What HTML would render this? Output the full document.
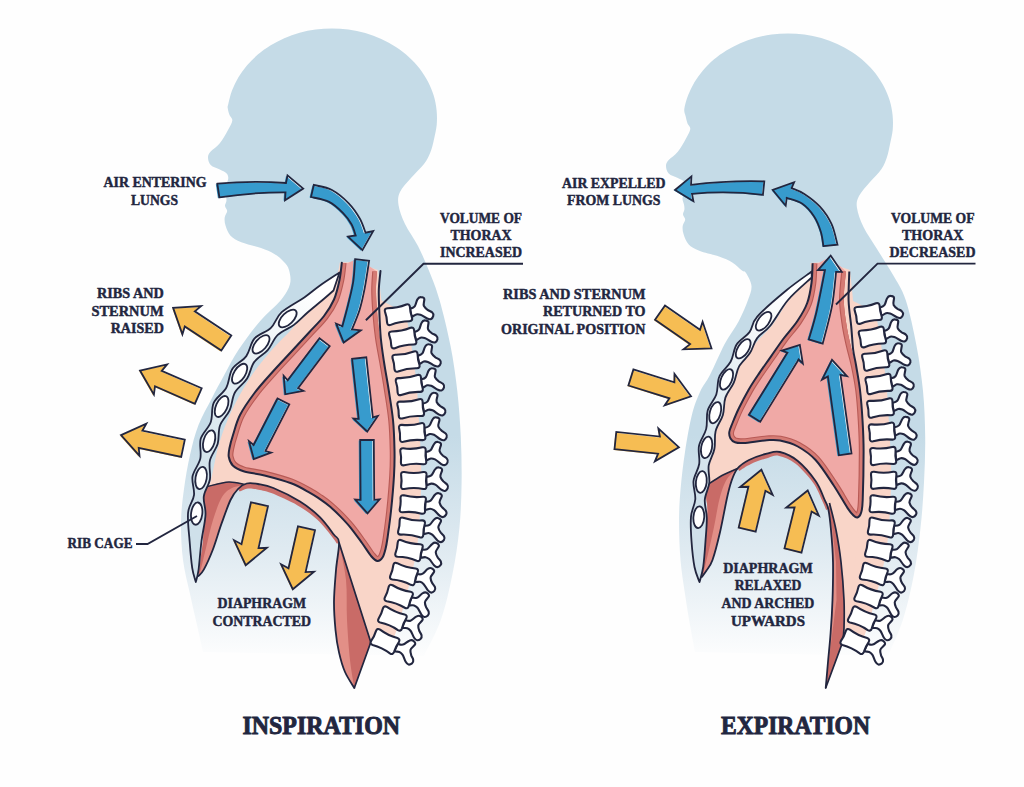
<!DOCTYPE html>
<html><head><meta charset="utf-8"><title>Inspiration and Expiration</title>
<style>
html,body{margin:0;padding:0;background:#fefefe;}
svg{display:block;}
text{font-family:"Liberation Serif",serif;font-weight:bold;fill:#22263f;stroke:#22263f;stroke-width:0.45px;}
text.t{stroke-width:0.9px;}
</style></head><body>
<svg width="1024" height="787" viewBox="0 0 1024 787">
<defs>
<linearGradient id="bodyG" gradientUnits="userSpaceOnUse" x1="0" y1="435" x2="0" y2="662">
<stop offset="0" stop-color="#c5dbe7"/><stop offset="0.5" stop-color="#dfeaf1"/><stop offset="1" stop-color="#fefefe"/></linearGradient>
<linearGradient id="rcL" gradientUnits="userSpaceOnUse" x1="320" y1="290" x2="200" y2="500">
<stop offset="0" stop-color="#ffffff"/><stop offset="0.45" stop-color="#e6eff4"/><stop offset="1" stop-color="#cfe0ea"/></linearGradient>
<linearGradient id="rcR" gradientUnits="userSpaceOnUse" x1="795" y1="290" x2="700" y2="500">
<stop offset="0" stop-color="#ffffff"/><stop offset="0.45" stop-color="#e6eff4"/><stop offset="1" stop-color="#cfe0ea"/></linearGradient>
</defs>
<rect width="1024" height="787" fill="#fefefe"/>
<path d="M203.0,652.0 C202.0,647.5 199.2,634.7 197.0,625.0 C194.8,615.3 192.3,604.8 190.0,594.0 C187.7,583.2 184.5,572.0 183.0,560.0 C181.5,548.0 180.8,533.8 181.0,522.0 C181.2,510.2 182.5,500.2 184.0,489.0 C185.5,477.8 187.6,465.7 190.0,455.0 C192.4,444.3 194.8,434.5 198.5,425.0 C202.2,415.5 207.7,406.4 212.0,398.0 C216.3,389.6 220.1,382.7 224.5,374.6 C228.9,366.5 232.8,358.5 238.7,349.6 C244.6,340.7 252.9,329.5 260.0,321.2 C267.1,312.9 276.0,306.2 281.0,300.0 C286.0,293.8 288.7,289.0 290.0,284.0 C291.3,279.0 290.0,273.7 289.0,270.0 C288.0,266.3 286.4,264.7 284.0,262.0 C281.6,259.3 278.1,256.2 274.3,253.9 C270.5,251.6 266.5,249.9 261.0,248.0 C255.5,246.1 246.4,244.4 241.3,242.3 C236.2,240.2 233.1,238.4 230.5,235.7 C227.9,232.9 226.6,228.8 225.6,225.8 C224.6,222.8 224.4,220.0 224.7,217.5 C225.0,215.0 227.1,212.9 227.2,211.0 C227.2,209.1 225.1,207.7 225.0,206.0 C224.9,204.3 226.2,202.7 226.4,201.0 C226.6,199.3 226.3,197.8 226.0,196.0 C225.7,194.2 224.4,192.0 224.5,190.0 C224.6,188.0 225.9,186.0 226.5,184.0 C227.1,182.0 228.3,179.8 228.3,178.0 C228.3,176.2 227.8,174.7 226.4,173.3 C225.0,171.9 222.4,171.0 219.8,169.6 C217.2,168.2 212.7,167.1 210.7,165.0 C208.7,162.9 208.0,159.6 208.0,157.3 C208.0,155.1 208.7,153.8 210.7,151.5 C212.7,149.2 216.9,146.8 219.8,143.2 C222.7,139.6 225.9,133.8 228.0,130.0 C230.1,126.2 232.1,123.0 232.3,120.5 C232.6,118.0 230.3,117.1 229.5,115.0 C228.7,112.9 227.9,109.8 227.7,108.0 C227.5,106.2 227.6,106.9 228.3,104.0 C229.0,101.0 230.4,94.8 232.1,90.3 C233.8,85.9 236.0,81.5 238.4,77.3 C240.9,73.2 243.8,69.1 247.1,65.3 C250.3,61.6 253.9,57.9 257.8,54.6 C261.6,51.3 265.9,48.3 270.3,45.5 C274.7,42.8 279.5,40.3 284.3,38.2 C289.2,36.0 294.3,34.2 299.6,32.8 C304.8,31.3 310.2,30.2 315.6,29.5 C321.0,28.8 326.5,28.4 332.0,28.4 C337.5,28.4 342.9,28.7 348.4,29.5 C354.0,30.3 359.8,31.5 365.3,33.0 C370.8,34.6 376.2,36.6 381.3,38.9 C386.4,41.2 391.3,43.9 395.9,46.9 C400.5,49.9 404.9,53.3 408.8,56.9 C412.7,60.5 416.4,64.4 419.6,68.5 C422.7,72.7 425.6,77.1 427.9,81.6 C430.3,86.1 432.2,90.8 433.7,95.6 C435.1,100.3 436.1,105.3 436.6,110.2 C437.1,115.1 437.1,120.1 436.7,125.0 C436.2,129.9 434.9,135.2 433.9,139.7 C432.9,144.2 432.1,147.9 430.5,152.0 C428.9,156.1 427.2,159.7 424.0,164.0 C420.8,168.3 415.0,173.3 411.0,178.0 C407.0,182.7 402.1,187.5 400.0,192.0 C397.9,196.5 397.7,199.7 398.5,205.0 C399.3,210.3 401.8,217.2 405.0,224.0 C408.2,230.8 413.9,238.0 418.0,246.0 C422.1,254.0 425.9,263.0 429.5,272.0 C433.1,281.0 436.0,287.7 439.5,300.0 C443.0,312.3 447.5,330.5 450.5,345.7 C453.5,360.9 455.6,375.8 457.3,391.0 C459.0,406.2 460.1,421.7 460.8,437.0 C461.5,452.3 461.8,467.4 461.6,482.6 C461.4,497.8 460.9,512.8 459.4,528.0 C457.9,543.2 455.6,558.7 452.5,574.0 C449.4,589.3 445.8,605.9 441.0,619.6 C436.2,633.3 426.8,649.9 424.0,656.0Z" fill="url(#bodyG)"/>
<path d="M695.0,652.0 C694.2,647.5 691.7,634.7 690.0,625.0 C688.3,615.3 686.6,604.8 685.0,594.0 C683.4,583.2 681.5,572.0 680.5,560.0 C679.5,548.0 679.0,533.7 679.0,522.0 C679.0,510.3 679.5,501.7 680.5,490.0 C681.5,478.3 683.1,464.6 685.0,452.0 C686.9,439.4 689.5,424.5 692.0,414.5 C694.5,404.5 697.0,398.6 700.0,392.0 C703.0,385.4 706.1,382.6 710.2,374.6 C714.3,366.7 719.8,353.2 724.5,344.3 C729.2,335.4 734.8,328.6 738.7,321.2 C742.6,313.8 745.9,305.9 748.0,300.0 C750.1,294.1 751.8,290.5 751.5,286.0 C751.2,281.5 747.6,275.6 746.0,273.0 C744.4,270.4 744.3,272.3 742.0,270.5 C739.7,268.7 736.1,264.7 732.3,262.4 C728.5,260.1 724.5,258.4 719.0,256.5 C713.5,254.6 704.4,252.9 699.3,250.8 C694.2,248.8 691.1,246.9 688.5,244.2 C685.9,241.4 684.6,237.3 683.6,234.3 C682.6,231.3 682.4,228.5 682.7,226.0 C683.0,223.5 685.2,221.4 685.2,219.5 C685.2,217.6 683.1,216.2 683.0,214.5 C682.9,212.8 684.2,211.2 684.4,209.5 C684.6,207.8 684.3,206.3 684.0,204.5 C683.7,202.7 682.4,200.5 682.5,198.5 C682.6,196.5 683.9,194.5 684.5,192.5 C685.1,190.5 686.3,188.3 686.3,186.5 C686.3,184.7 685.8,183.2 684.4,181.8 C683.0,180.4 680.4,179.5 677.8,178.1 C675.2,176.7 670.7,175.6 668.7,173.5 C666.7,171.4 666.0,168.1 666.0,165.8 C666.0,163.6 666.7,162.3 668.7,160.0 C670.7,157.7 674.9,155.3 677.8,151.7 C680.7,148.1 683.9,142.3 686.0,138.5 C688.1,134.7 690.0,131.5 690.3,129.0 C690.5,126.5 688.3,125.6 687.5,123.5 C686.7,121.4 686.2,118.9 685.7,116.5 C685.2,114.1 683.9,112.5 684.3,109.0 C684.7,105.5 686.4,99.8 688.1,95.3 C689.8,90.9 692.0,86.5 694.4,82.3 C696.9,78.2 699.8,74.1 703.1,70.3 C706.3,66.6 709.9,62.9 713.8,59.6 C717.6,56.3 721.9,53.3 726.3,50.5 C730.7,47.8 735.5,45.3 740.3,43.2 C745.2,41.0 750.3,39.2 755.6,37.8 C760.8,36.3 766.2,35.2 771.6,34.5 C777.0,33.8 782.5,33.4 788.0,33.4 C793.5,33.4 798.9,33.7 804.4,34.5 C810.0,35.3 815.8,36.5 821.3,38.0 C826.8,39.6 832.2,41.6 837.3,43.9 C842.4,46.2 847.3,48.9 851.9,51.9 C856.5,54.9 860.9,58.3 864.8,61.9 C868.7,65.5 872.4,69.4 875.6,73.5 C878.7,77.7 881.6,82.1 883.9,86.6 C886.3,91.1 888.2,95.8 889.7,100.6 C891.1,105.3 892.1,110.3 892.6,115.2 C893.1,120.1 893.1,125.1 892.7,130.0 C892.2,134.9 890.8,140.2 889.9,144.7 C888.9,149.2 888.4,152.9 887.0,157.0 C885.6,161.1 884.3,164.8 881.5,169.0 C878.7,173.2 873.8,177.5 870.0,182.0 C866.2,186.5 861.2,191.7 859.0,196.0 C856.8,200.3 856.2,202.8 857.0,208.0 C857.8,213.2 860.2,220.2 863.5,227.0 C866.8,233.8 872.2,241.2 877.0,249.0 C881.8,256.8 887.7,265.5 892.5,274.0 C897.3,282.5 901.7,288.1 905.7,300.0 C909.7,311.9 913.6,330.5 916.5,345.7 C919.4,360.9 921.5,375.8 923.0,391.0 C924.5,406.2 925.0,421.7 925.2,437.0 C925.4,452.3 924.8,467.4 924.0,482.6 C923.2,497.8 922.2,512.8 920.5,528.0 C918.8,543.2 916.9,558.7 914.0,574.0 C911.1,589.3 907.3,605.9 903.0,619.6 C898.7,633.3 890.5,649.9 888.0,656.0Z" fill="url(#bodyG)"/>
<path d="M339.8,262.5 C339.4,264.4 339.1,269.4 337.3,274.0 C335.5,278.6 331.9,285.8 329.0,290.0 C326.1,294.2 324.1,295.9 320.0,299.0 C315.9,302.1 308.8,304.2 304.6,308.7 C300.4,313.1 300.5,318.5 294.7,325.7 C288.9,332.9 277.4,343.3 270.0,352.0 C262.6,360.7 256.3,368.3 250.0,378.0 C243.7,387.7 237.2,399.0 232.0,410.0 C226.8,421.0 222.5,432.3 219.0,444.0 C215.5,455.7 213.0,472.8 211.0,480.0 C209.0,487.2 207.7,485.8 207.0,487.0 L246.7,483.5 C248.6,483.6 253.6,483.2 258.0,484.0 C262.4,484.8 266.4,485.1 273.4,488.0 C280.4,490.9 292.3,496.7 300.0,501.5 C307.7,506.3 314.0,511.4 319.6,516.9 C325.2,522.4 330.6,530.2 333.8,534.5 C337.0,538.8 338.1,541.2 339.0,542.5 L370.8,642.2 L400,560 L396,430 L378,270 L355,262Z" fill="#f9d5c8"/>
<path d="M380.5,300.0 C380.3,301.8 379.2,304.7 379.3,311.0 C379.4,317.3 380.0,329.5 380.8,338.0 C381.6,346.5 382.7,353.3 384.0,362.0 C385.3,370.7 387.2,380.3 388.7,390.0 C390.2,399.7 392.0,410.0 393.0,420.0 C394.0,430.0 394.3,440.7 394.5,450.0 C394.7,459.3 394.6,465.4 394.0,475.6 C393.4,485.8 392.1,500.6 391.0,511.0 C389.9,521.4 388.5,531.0 387.5,538.0 C386.5,545.0 386.1,546.0 385.0,553.0 C383.9,560.0 382.7,570.2 381.0,580.0 C379.3,589.8 376.7,601.6 375.0,612.0 C373.3,622.4 371.5,637.2 370.8,642.2 L391.7,644.8 C393.0,640.9 397.0,629.1 399.3,621.4 C401.6,613.8 403.8,606.6 405.7,599.1 C407.7,591.5 409.4,583.9 411.2,576.1 C413.0,568.2 415.0,560.0 416.3,552.1 C417.6,544.1 418.3,536.4 418.9,528.5 C419.6,520.7 419.9,513.0 420.3,505.0 C420.7,497.0 421.2,488.7 421.3,480.5 C421.4,472.3 421.1,464.0 420.8,455.9 C420.5,447.8 420.1,439.8 419.7,431.8 C419.2,423.8 418.6,415.9 418.1,407.9 C417.7,399.9 417.5,391.8 416.7,383.8 C415.9,375.9 414.5,368.1 413.4,360.2 C412.3,352.3 411.3,344.4 410.1,336.6 C408.8,328.7 406.6,317.2 405.9,313.3Z" fill="#f9d5c8"/>
<path d="M207.4,486.5 C210.9,485.8 222.5,482.3 228.7,482.0 C234.9,481.7 242.0,484.1 244.7,484.5 C243.6,485.2 240.4,486.4 238.0,489.0 C235.6,491.6 233.2,494.3 230.5,500.0 C227.8,505.7 224.6,515.1 221.6,523.4 C218.6,531.7 215.7,542.3 212.7,550.0 C209.7,557.7 206.2,565.3 203.8,569.6 C201.4,573.9 199.4,574.9 198.5,576.0 C198.8,573.3 199.8,565.8 200.5,560.0 C201.2,554.2 202.3,548.5 203.0,541.0 C203.7,533.5 204.5,522.7 204.5,515.0 C204.5,507.3 202.5,499.8 203.0,495.0 C203.5,490.2 206.7,487.9 207.4,486.5Z" fill="#e28f87"/>
<path d="M207.4,486.5 C211.7,484.3 222.5,482.3 228.7,482.0 C234.9,481.7 244.1,483.5 244.7,484.5 C245.2,485.5 235.8,485.9 232.0,488.0 C228.2,490.1 225.2,491.7 222.0,497.0 C218.8,502.3 215.7,511.5 213.0,520.0 C210.3,528.5 208.2,539.0 206.0,548.0 C203.8,557.0 200.4,572.0 199.5,574.0 C198.6,576.0 199.9,565.5 200.5,560.0 C201.1,554.5 202.3,548.5 203.0,541.0 C203.7,533.5 204.5,522.7 204.5,515.0 C204.5,507.3 202.5,499.8 203.0,495.0 C203.5,490.2 203.1,488.7 207.4,486.5Z" fill="#c96b67"/>
<path d="M207.4,486.5 C210.9,485.8 222.5,482.3 228.7,482.0 C234.9,481.7 242.0,484.1 244.7,484.5" fill="none" stroke="#22263f" stroke-width="1.5"/>
<path d="M339.0,542.5 C338.5,547.1 336.8,560.1 336.0,570.0 C335.2,579.9 334.1,591.6 334.0,601.6 C333.9,611.6 334.7,621.5 335.5,630.0 C336.3,638.5 337.4,645.4 339.0,652.4 C340.6,659.4 342.4,666.1 345.0,672.0 C347.6,677.9 352.8,685.3 354.3,688.0 L370.8,642.2Z" fill="#e28f87"/>
<path d="M339.0,542.5 C340.2,548.8 344.7,567.1 346.0,580.0 C347.3,592.9 346.3,606.7 347.0,620.0 C347.7,633.3 348.8,648.7 350.0,660.0 C351.2,671.3 353.6,683.3 354.3,688.0 L370.8,642.2Z" fill="#c96b67"/>
<path d="M354.3,688 L370.8,642.2 L339,542.5" fill="none" stroke="#22263f" stroke-width="1.7" stroke-linejoin="round"/>
<path d="M238.0,489.0 C239.4,488.1 243.4,484.3 246.7,483.5 C250.0,482.7 253.6,483.2 258.0,484.0 C262.4,484.8 266.4,485.1 273.4,488.0 C280.4,490.9 292.3,496.7 300.0,501.5 C307.7,506.3 314.0,511.4 319.6,516.9 C325.2,522.4 330.6,530.2 333.8,534.5 C337.0,538.8 338.1,541.2 339.0,542.5 L337.0,543.8 C336.1,542.5 334.9,540.2 331.6,536.2 C328.3,532.1 322.8,524.6 317.1,519.5 C311.4,514.3 305.2,509.8 297.6,505.4 C289.9,501.0 278.0,495.7 271.3,493.1 C264.5,490.4 261.0,490.2 257.1,489.4 C253.2,488.7 250.9,488.2 248.0,488.5 C245.0,488.9 241.0,491.0 239.6,491.5Z" fill="#c96f6b"/>
<path d="M198.5,576.0 C199.4,574.9 201.4,573.9 203.8,569.6 C206.2,565.3 209.7,557.7 212.7,550.0 C215.7,542.3 218.6,531.7 221.6,523.4 C224.6,515.1 227.8,505.7 230.5,500.0 C233.2,494.3 235.3,491.8 238.0,489.0 C240.7,486.2 243.4,484.3 246.7,483.5 C250.0,482.7 253.6,483.2 258.0,484.0 C262.4,484.8 266.4,485.1 273.4,488.0 C280.4,490.9 292.3,496.7 300.0,501.5 C307.7,506.3 314.0,511.4 319.6,516.9 C325.2,522.4 330.6,530.2 333.8,534.5 C337.0,538.8 338.6,536.6 339.0,542.5 C339.4,548.4 336.8,560.1 336.0,570.0 C335.2,579.9 334.1,591.6 334.0,601.6 C333.9,611.6 334.7,621.5 335.5,630.0 C336.3,638.5 337.4,645.4 339.0,652.4 C340.6,659.4 342.4,666.1 345.0,672.0 C347.6,677.9 352.8,685.3 354.3,688.0" fill="none" stroke="#22263f" stroke-width="1.8" stroke-linecap="round"/>
<clipPath id="clL"><path d="M341.8,262.7 C341.4,265.6 340.8,273.9 339.5,280.0 C338.2,286.1 336.6,293.5 334.0,299.5 C331.4,305.5 328.2,310.5 324.0,316.0 C319.8,321.5 314.5,326.5 309.0,332.5 C303.5,338.5 297.1,345.4 291.0,352.0 C284.9,358.6 278.6,365.2 272.5,372.0 C266.4,378.8 259.9,385.8 254.5,393.0 C249.1,400.2 243.6,408.0 240.0,415.0 C236.4,422.0 234.8,429.5 233.0,435.0 C231.2,440.5 230.2,444.3 229.5,448.0 C228.8,451.7 228.2,454.1 228.8,457.0 C229.4,459.9 230.4,463.1 232.8,465.5 C235.2,467.9 238.2,469.6 243.5,471.3 C248.8,473.0 256.6,473.5 264.5,475.5 C272.4,477.5 283.5,480.4 291.1,483.3 C298.7,486.2 305.2,490.2 310.0,492.8 C314.8,495.4 316.6,496.8 320.0,499.1 C323.4,501.4 326.8,503.9 330.2,506.8 C333.6,509.7 336.9,512.9 340.3,516.4 C343.7,519.9 346.9,523.2 350.5,527.6 C354.1,532.0 358.5,538.2 362.0,543.0 C365.5,547.8 368.9,553.5 371.5,556.5 C374.1,559.5 375.7,560.8 377.5,561.0 C379.3,561.2 381.2,559.5 382.5,557.5 C383.8,555.5 384.7,552.2 385.5,549.0 C386.3,545.8 386.6,544.3 387.5,538.0 C388.4,531.7 389.9,521.4 391.0,511.0 C392.1,500.6 393.4,485.8 394.0,475.6 C394.6,465.4 394.7,459.3 394.5,450.0 C394.3,440.7 394.0,430.0 393.0,420.0 C392.0,410.0 390.2,399.7 388.7,390.0 C387.2,380.3 385.5,370.7 384.0,362.0 C382.5,353.3 381.0,346.5 379.8,338.0 C378.6,329.5 377.6,319.0 377.0,311.0 C376.4,303.0 376.0,296.6 376.0,290.0 C376.0,283.4 376.8,274.6 377.0,271.5 L369,266 L355,259.7 L348,263Z"/></clipPath>
<path d="M341.8,262.7 C341.4,265.6 340.8,273.9 339.5,280.0 C338.2,286.1 336.6,293.5 334.0,299.5 C331.4,305.5 328.2,310.5 324.0,316.0 C319.8,321.5 314.5,326.5 309.0,332.5 C303.5,338.5 297.1,345.4 291.0,352.0 C284.9,358.6 278.6,365.2 272.5,372.0 C266.4,378.8 259.9,385.8 254.5,393.0 C249.1,400.2 243.6,408.0 240.0,415.0 C236.4,422.0 234.8,429.5 233.0,435.0 C231.2,440.5 230.2,444.3 229.5,448.0 C228.8,451.7 228.2,454.1 228.8,457.0 C229.4,459.9 230.4,463.1 232.8,465.5 C235.2,467.9 238.2,469.6 243.5,471.3 C248.8,473.0 256.6,473.5 264.5,475.5 C272.4,477.5 283.5,480.4 291.1,483.3 C298.7,486.2 305.2,490.2 310.0,492.8 C314.8,495.4 316.6,496.8 320.0,499.1 C323.4,501.4 326.8,503.9 330.2,506.8 C333.6,509.7 336.9,512.9 340.3,516.4 C343.7,519.9 346.9,523.2 350.5,527.6 C354.1,532.0 358.5,538.2 362.0,543.0 C365.5,547.8 368.9,553.5 371.5,556.5 C374.1,559.5 375.7,560.8 377.5,561.0 C379.3,561.2 381.2,559.5 382.5,557.5 C383.8,555.5 384.7,552.2 385.5,549.0 C386.3,545.8 386.6,544.3 387.5,538.0 C388.4,531.7 389.9,521.4 391.0,511.0 C392.1,500.6 393.4,485.8 394.0,475.6 C394.6,465.4 394.7,459.3 394.5,450.0 C394.3,440.7 394.0,430.0 393.0,420.0 C392.0,410.0 390.2,399.7 388.7,390.0 C387.2,380.3 385.5,370.7 384.0,362.0 C382.5,353.3 381.0,346.5 379.8,338.0 C378.6,329.5 377.6,319.0 377.0,311.0 C376.4,303.0 376.0,296.6 376.0,290.0 C376.0,283.4 376.8,274.6 377.0,271.5 L369,266 L355,259.7 L348,263Z" fill="#f0a9a6"/>
<g clip-path="url(#clL)"><path d="M341.8,262.7 C341.4,265.6 340.8,273.9 339.5,280.0 C338.2,286.1 336.6,293.5 334.0,299.5 C331.4,305.5 328.2,310.5 324.0,316.0 C319.8,321.5 314.5,326.5 309.0,332.5 C303.5,338.5 297.1,345.4 291.0,352.0 C284.9,358.6 278.6,365.2 272.5,372.0 C266.4,378.8 259.9,385.8 254.5,393.0 C249.1,400.2 243.6,408.0 240.0,415.0 C236.4,422.0 234.8,429.5 233.0,435.0 C231.2,440.5 230.2,444.3 229.5,448.0 C228.8,451.7 228.2,454.1 228.8,457.0 C229.4,459.9 230.4,463.1 232.8,465.5 C235.2,467.9 238.2,469.6 243.5,471.3 C248.8,473.0 256.6,473.5 264.5,475.5 C272.4,477.5 283.5,480.4 291.1,483.3 C298.7,486.2 305.2,490.2 310.0,492.8 C314.8,495.4 316.6,496.8 320.0,499.1 C323.4,501.4 326.8,503.9 330.2,506.8 C333.6,509.7 336.9,512.9 340.3,516.4 C343.7,519.9 346.9,523.2 350.5,527.6 C354.1,532.0 358.5,538.2 362.0,543.0 C365.5,547.8 368.9,553.5 371.5,556.5 C374.1,559.5 375.7,560.8 377.5,561.0 C379.3,561.2 381.2,559.5 382.5,557.5 C383.8,555.5 384.7,552.2 385.5,549.0 C386.3,545.8 386.6,544.3 387.5,538.0 C388.4,531.7 389.9,521.4 391.0,511.0 C392.1,500.6 393.4,485.8 394.0,475.6 C394.6,465.4 394.7,459.3 394.5,450.0 C394.3,440.7 394.0,430.0 393.0,420.0 C392.0,410.0 390.2,399.7 388.7,390.0 C387.2,380.3 385.5,370.7 384.0,362.0 C382.5,353.3 381.0,346.5 379.8,338.0 C378.6,329.5 377.6,319.0 377.0,311.0 C376.4,303.0 376.0,296.6 376.0,290.0 C376.0,283.4 376.8,274.6 377.0,271.5" fill="none" stroke="#b85a56" stroke-width="9.6"/><path d="M341.8,262.7 C341.4,265.6 340.8,273.9 339.5,280.0 C338.2,286.1 336.6,293.5 334.0,299.5 C331.4,305.5 328.2,310.5 324.0,316.0 C319.8,321.5 314.5,326.5 309.0,332.5 C303.5,338.5 297.1,345.4 291.0,352.0 C284.9,358.6 278.6,365.2 272.5,372.0 C266.4,378.8 259.9,385.8 254.5,393.0 C249.1,400.2 243.6,408.0 240.0,415.0 C236.4,422.0 234.8,429.5 233.0,435.0 C231.2,440.5 230.2,444.3 229.5,448.0 C228.8,451.7 228.2,454.1 228.8,457.0 C229.4,459.9 230.4,463.1 232.8,465.5 C235.2,467.9 238.2,469.6 243.5,471.3 C248.8,473.0 256.6,473.5 264.5,475.5 C272.4,477.5 283.5,480.4 291.1,483.3 C298.7,486.2 305.2,490.2 310.0,492.8 C314.8,495.4 316.6,496.8 320.0,499.1 C323.4,501.4 326.8,503.9 330.2,506.8 C333.6,509.7 336.9,512.9 340.3,516.4 C343.7,519.9 346.9,523.2 350.5,527.6 C354.1,532.0 358.5,538.2 362.0,543.0 C365.5,547.8 368.9,553.5 371.5,556.5 C374.1,559.5 375.7,560.8 377.5,561.0 C379.3,561.2 381.2,559.5 382.5,557.5 C383.8,555.5 384.7,552.2 385.5,549.0 C386.3,545.8 386.6,544.3 387.5,538.0 C388.4,531.7 389.9,521.4 391.0,511.0 C392.1,500.6 393.4,485.8 394.0,475.6 C394.6,465.4 394.7,459.3 394.5,450.0 C394.3,440.7 394.0,430.0 393.0,420.0 C392.0,410.0 390.2,399.7 388.7,390.0 C387.2,380.3 385.5,370.7 384.0,362.0 C382.5,353.3 381.0,346.5 379.8,338.0 C378.6,329.5 377.6,319.0 377.0,311.0 C376.4,303.0 376.0,296.6 376.0,290.0 C376.0,283.4 376.8,274.6 377.0,271.5" fill="none" stroke="#d57b74" stroke-width="7.4"/></g>
<path d="M341.8,262.7 C341.4,265.6 340.8,273.9 339.5,280.0 C338.2,286.1 336.6,293.5 334.0,299.5 C331.4,305.5 328.2,310.5 324.0,316.0 C319.8,321.5 314.5,326.5 309.0,332.5 C303.5,338.5 297.1,345.4 291.0,352.0 C284.9,358.6 278.6,365.2 272.5,372.0 C266.4,378.8 259.9,385.8 254.5,393.0 C249.1,400.2 243.6,408.0 240.0,415.0 C236.4,422.0 234.8,429.5 233.0,435.0 C231.2,440.5 230.2,444.3 229.5,448.0 C228.8,451.7 228.2,454.1 228.8,457.0 C229.4,459.9 230.4,463.1 232.8,465.5 C235.2,467.9 238.2,469.6 243.5,471.3 C248.8,473.0 256.6,473.5 264.5,475.5 C272.4,477.5 283.5,480.4 291.1,483.3 C298.7,486.2 305.2,490.2 310.0,492.8 C314.8,495.4 316.6,496.8 320.0,499.1 C323.4,501.4 326.8,503.9 330.2,506.8 C333.6,509.7 336.9,512.9 340.3,516.4 C343.7,519.9 346.9,523.2 350.5,527.6 C354.1,532.0 358.5,538.2 362.0,543.0 C365.5,547.8 368.9,553.5 371.5,556.5 C374.1,559.5 375.7,560.8 377.5,561.0 C379.3,561.2 381.2,559.5 382.5,557.5 C383.8,555.5 384.7,552.2 385.5,549.0 C386.3,545.8 386.6,544.3 387.5,538.0 C388.4,531.7 389.9,521.4 391.0,511.0 C392.1,500.6 393.4,485.8 394.0,475.6 C394.6,465.4 394.7,459.3 394.5,450.0 C394.3,440.7 394.0,430.0 393.0,420.0 C392.0,410.0 390.2,399.7 388.7,390.0 C387.2,380.3 385.3,370.7 384.0,362.0 C382.7,353.3 381.6,346.5 380.8,338.0 C380.0,329.5 379.6,319.0 379.3,311.0 C379.0,303.0 378.6,296.7 378.8,290.0 C379.0,283.3 380.2,274.2 380.5,271.0" fill="none" stroke="#22263f" stroke-width="2.0" stroke-linecap="round"/>
<path d="M339.5,272.5 C336.2,274.7 325.8,281.4 320.0,285.5 C314.2,289.6 311.0,292.7 304.6,297.2 C298.2,301.7 287.3,307.1 281.7,312.2 C276.0,317.4 275.5,323.5 270.9,327.9 C266.4,332.3 258.5,333.9 254.4,338.6 C250.3,343.3 250.0,351.0 246.3,356.1 C242.6,361.2 235.6,363.8 232.3,369.0 C228.9,374.3 229.4,382.1 226.3,387.7 C223.2,393.4 216.3,397.2 213.7,402.9 C211.1,408.7 212.9,416.2 210.7,422.2 C208.6,428.2 202.5,432.7 200.7,438.8 C199.0,444.9 201.7,452.3 200.3,458.6 C198.9,464.8 193.6,470.4 192.5,476.5 C191.5,482.6 194.8,489.2 194.0,495.2 C193.3,501.2 188.8,504.9 188.1,512.5 C187.3,520.2 188.9,531.8 189.6,541.0 C190.3,550.2 191.2,561.1 192.2,567.9 C193.2,574.7 195.2,579.6 195.8,582.0 C196.3,579.9 197.7,576.4 198.6,569.6 C199.5,562.8 200.3,550.2 201.5,541.0 C202.7,531.8 205.2,522.1 205.5,514.7 C205.9,507.3 203.0,502.3 203.8,496.4 C204.5,490.5 208.9,485.5 209.9,479.5 C210.9,473.5 208.6,466.6 209.9,460.6 C211.2,454.7 216.0,449.5 217.7,443.7 C219.3,437.8 218.0,431.1 220.0,425.5 C222.0,419.9 227.2,415.7 229.7,410.2 C232.2,404.7 232.0,397.7 234.9,392.5 C237.8,387.2 243.9,383.6 247.1,378.5 C250.3,373.4 250.8,366.6 254.3,361.9 C257.7,357.2 263.8,354.6 267.7,350.1 C271.6,345.7 273.4,339.1 277.8,334.9 C282.1,330.7 289.0,328.6 293.9,324.9 C298.8,321.2 302.3,317.1 307.0,313.0 C311.7,308.9 317.6,304.2 322.0,300.5 C326.4,296.8 331.6,292.2 333.5,290.5Z" fill="url(#rcL)" stroke="#22263f" stroke-width="1.8" stroke-linejoin="round"/><ellipse cx="287.7" cy="318.5" rx="11.2" ry="5.6" transform="rotate(136.0 287.7 318.5)" fill="#fff" stroke="#22263f" stroke-width="1.8"/><ellipse cx="261.0" cy="344.3" rx="11.2" ry="5.6" transform="rotate(131.1 261.0 344.3)" fill="#fff" stroke="#22263f" stroke-width="1.8"/><ellipse cx="239.6" cy="373.7" rx="11.2" ry="5.6" transform="rotate(122.4 239.6 373.7)" fill="#fff" stroke="#22263f" stroke-width="1.8"/><ellipse cx="221.6" cy="406.5" rx="11.2" ry="5.6" transform="rotate(114.3 221.6 406.5)" fill="#fff" stroke="#22263f" stroke-width="1.8"/><ellipse cx="209.1" cy="441.2" rx="11.2" ry="5.6" transform="rotate(106.0 209.1 441.2)" fill="#fff" stroke="#22263f" stroke-width="1.8"/><ellipse cx="201.1" cy="478.0" rx="11.2" ry="5.6" transform="rotate(99.7 201.1 478.0)" fill="#fff" stroke="#22263f" stroke-width="1.8"/><ellipse cx="196.7" cy="513.6" rx="11.2" ry="5.6" transform="rotate(97.0 196.7 513.6)" fill="#fff" stroke="#22263f" stroke-width="1.8"/>
<g transform="translate(398.5,314.7) rotate(-11.0) scale(1.00)"><path d="M12.4,-3.6 C14.5,-3.8 16,-3.8 17.5,-5.1 C19.2,-6.6 19.8,-9.5 21.5,-11.4 C22.6,-12.8 24.2,-13.3 25.3,-13 C27.2,-12.6 28.6,-11.6 28.3,-10.2 C27.9,-8 26,-5.5 26.6,-3.6 C27.2,-1.6 28.5,-0.2 29.7,1 C31,2.2 32.6,3 33.4,4.1 C34.4,5.5 34.5,6.7 33.9,7.8 C33.2,9.2 32.4,10.1 31.2,10.4 C30,10.7 28.7,10 27.5,9.2 C25.4,7.8 23.5,5.3 21.5,4.2 C20,3.4 18.8,3 17.5,3.1 C16,3.2 14.8,4.4 12.6,4.7 Z" fill="#fff" stroke="#22263f" stroke-width="2.1" stroke-linejoin="round"/><path d="M-9.6,-8.5 Q0,-6.6 9.6,-8.5 Q12.9,-8.9 12.7,-5.6 Q11.8,0 12.7,5.6 Q12.9,8.9 9.6,8.5 Q0,6.6 -9.6,8.5 Q-12.9,8.9 -12.7,5.6 Q-11.8,0 -12.7,-5.6 Q-12.9,-8.9 -9.6,-8.5 Z" fill="#fff" stroke="#22263f" stroke-width="2.1" stroke-linejoin="round"/></g>
<g transform="translate(402.7,338.0) rotate(-11.0) scale(1.00)"><path d="M12.4,-3.6 C14.5,-3.8 16,-3.8 17.5,-5.1 C19.2,-6.6 19.8,-9.5 21.5,-11.4 C22.6,-12.8 24.2,-13.3 25.3,-13 C27.2,-12.6 28.6,-11.6 28.3,-10.2 C27.9,-8 26,-5.5 26.6,-3.6 C27.2,-1.6 28.5,-0.2 29.7,1 C31,2.2 32.6,3 33.4,4.1 C34.4,5.5 34.5,6.7 33.9,7.8 C33.2,9.2 32.4,10.1 31.2,10.4 C30,10.7 28.7,10 27.5,9.2 C25.4,7.8 23.5,5.3 21.5,4.2 C20,3.4 18.8,3 17.5,3.1 C16,3.2 14.8,4.4 12.6,4.7 Z" fill="#fff" stroke="#22263f" stroke-width="2.1" stroke-linejoin="round"/><path d="M-9.6,-8.5 Q0,-6.6 9.6,-8.5 Q12.9,-8.9 12.7,-5.6 Q11.8,0 12.7,5.6 Q12.9,8.9 9.6,8.5 Q0,6.6 -9.6,8.5 Q-12.9,8.9 -12.7,5.6 Q-11.8,0 -12.7,-5.6 Q-12.9,-8.9 -9.6,-8.5 Z" fill="#fff" stroke="#22263f" stroke-width="2.1" stroke-linejoin="round"/></g>
<g transform="translate(406.0,361.5) rotate(-10.0) scale(1.00)"><path d="M12.4,-3.6 C14.5,-3.8 16,-3.8 17.5,-5.1 C19.2,-6.6 19.8,-9.5 21.5,-11.4 C22.6,-12.8 24.2,-13.3 25.3,-13 C27.2,-12.6 28.6,-11.6 28.3,-10.2 C27.9,-8 26,-5.5 26.6,-3.6 C27.2,-1.6 28.5,-0.2 29.7,1 C31,2.2 32.6,3 33.4,4.1 C34.4,5.5 34.5,6.7 33.9,7.8 C33.2,9.2 32.4,10.1 31.2,10.4 C30,10.7 28.7,10 27.5,9.2 C25.4,7.8 23.5,5.3 21.5,4.2 C20,3.4 18.8,3 17.5,3.1 C16,3.2 14.8,4.4 12.6,4.7 Z" fill="#fff" stroke="#22263f" stroke-width="2.1" stroke-linejoin="round"/><path d="M-9.6,-8.5 Q0,-6.6 9.6,-8.5 Q12.9,-8.9 12.7,-5.6 Q11.8,0 12.7,5.6 Q12.9,8.9 9.6,8.5 Q0,6.6 -9.6,8.5 Q-12.9,8.9 -12.7,5.6 Q-11.8,0 -12.7,-5.6 Q-12.9,-8.9 -9.6,-8.5 Z" fill="#fff" stroke="#22263f" stroke-width="2.1" stroke-linejoin="round"/></g>
<g transform="translate(409.3,385.0) rotate(-9.0) scale(1.00)"><path d="M12.4,-3.6 C14.5,-3.8 16,-3.8 17.5,-5.1 C19.2,-6.6 19.8,-9.5 21.5,-11.4 C22.6,-12.8 24.2,-13.3 25.3,-13 C27.2,-12.6 28.6,-11.6 28.3,-10.2 C27.9,-8 26,-5.5 26.6,-3.6 C27.2,-1.6 28.5,-0.2 29.7,1 C31,2.2 32.6,3 33.4,4.1 C34.4,5.5 34.5,6.7 33.9,7.8 C33.2,9.2 32.4,10.1 31.2,10.4 C30,10.7 28.7,10 27.5,9.2 C25.4,7.8 23.5,5.3 21.5,4.2 C20,3.4 18.8,3 17.5,3.1 C16,3.2 14.8,4.4 12.6,4.7 Z" fill="#fff" stroke="#22263f" stroke-width="2.1" stroke-linejoin="round"/><path d="M-9.6,-8.5 Q0,-6.6 9.6,-8.5 Q12.9,-8.9 12.7,-5.6 Q11.8,0 12.7,5.6 Q12.9,8.9 9.6,8.5 Q0,6.6 -9.6,8.5 Q-12.9,8.9 -12.7,5.6 Q-11.8,0 -12.7,-5.6 Q-12.9,-8.9 -9.6,-8.5 Z" fill="#fff" stroke="#22263f" stroke-width="2.1" stroke-linejoin="round"/></g>
<g transform="translate(410.7,408.8) rotate(-7.0) scale(1.00)"><path d="M12.4,-3.6 C14.5,-3.8 16,-3.8 17.5,-5.1 C19.2,-6.6 19.8,-9.5 21.5,-11.4 C22.6,-12.8 24.2,-13.3 25.3,-13 C27.2,-12.6 28.6,-11.6 28.3,-10.2 C27.9,-8 26,-5.5 26.6,-3.6 C27.2,-1.6 28.5,-0.2 29.7,1 C31,2.2 32.6,3 33.4,4.1 C34.4,5.5 34.5,6.7 33.9,7.8 C33.2,9.2 32.4,10.1 31.2,10.4 C30,10.7 28.7,10 27.5,9.2 C25.4,7.8 23.5,5.3 21.5,4.2 C20,3.4 18.8,3 17.5,3.1 C16,3.2 14.8,4.4 12.6,4.7 Z" fill="#fff" stroke="#22263f" stroke-width="2.1" stroke-linejoin="round"/><path d="M-9.6,-8.5 Q0,-6.6 9.6,-8.5 Q12.9,-8.9 12.7,-5.6 Q11.8,0 12.7,5.6 Q12.9,8.9 9.6,8.5 Q0,6.6 -9.6,8.5 Q-12.9,8.9 -12.7,5.6 Q-11.8,0 -12.7,-5.6 Q-12.9,-8.9 -9.6,-8.5 Z" fill="#fff" stroke="#22263f" stroke-width="2.1" stroke-linejoin="round"/></g>
<g transform="translate(412.2,432.5) rotate(-5.0) scale(1.00)"><path d="M12.4,-3.6 C14.5,-3.8 16,-3.8 17.5,-5.1 C19.2,-6.6 19.8,-9.5 21.5,-11.4 C22.6,-12.8 24.2,-13.3 25.3,-13 C27.2,-12.6 28.6,-11.6 28.3,-10.2 C27.9,-8 26,-5.5 26.6,-3.6 C27.2,-1.6 28.5,-0.2 29.7,1 C31,2.2 32.6,3 33.4,4.1 C34.4,5.5 34.5,6.7 33.9,7.8 C33.2,9.2 32.4,10.1 31.2,10.4 C30,10.7 28.7,10 27.5,9.2 C25.4,7.8 23.5,5.3 21.5,4.2 C20,3.4 18.8,3 17.5,3.1 C16,3.2 14.8,4.4 12.6,4.7 Z" fill="#fff" stroke="#22263f" stroke-width="2.1" stroke-linejoin="round"/><path d="M-9.6,-8.5 Q0,-6.6 9.6,-8.5 Q12.9,-8.9 12.7,-5.6 Q11.8,0 12.7,5.6 Q12.9,8.9 9.6,8.5 Q0,6.6 -9.6,8.5 Q-12.9,8.9 -12.7,5.6 Q-11.8,0 -12.7,-5.6 Q-12.9,-8.9 -9.6,-8.5 Z" fill="#fff" stroke="#22263f" stroke-width="2.1" stroke-linejoin="round"/></g>
<g transform="translate(413.3,456.3) rotate(-3.0) scale(1.00)"><path d="M12.4,-3.6 C14.5,-3.8 16,-3.8 17.5,-5.1 C19.2,-6.6 19.8,-9.5 21.5,-11.4 C22.6,-12.8 24.2,-13.3 25.3,-13 C27.2,-12.6 28.6,-11.6 28.3,-10.2 C27.9,-8 26,-5.5 26.6,-3.6 C27.2,-1.6 28.5,-0.2 29.7,1 C31,2.2 32.6,3 33.4,4.1 C34.4,5.5 34.5,6.7 33.9,7.8 C33.2,9.2 32.4,10.1 31.2,10.4 C30,10.7 28.7,10 27.5,9.2 C25.4,7.8 23.5,5.3 21.5,4.2 C20,3.4 18.8,3 17.5,3.1 C16,3.2 14.8,4.4 12.6,4.7 Z" fill="#fff" stroke="#22263f" stroke-width="2.1" stroke-linejoin="round"/><path d="M-9.6,-8.5 Q0,-6.6 9.6,-8.5 Q12.9,-8.9 12.7,-5.6 Q11.8,0 12.7,5.6 Q12.9,8.9 9.6,8.5 Q0,6.6 -9.6,8.5 Q-12.9,8.9 -12.7,5.6 Q-11.8,0 -12.7,-5.6 Q-12.9,-8.9 -9.6,-8.5 Z" fill="#fff" stroke="#22263f" stroke-width="2.1" stroke-linejoin="round"/></g>
<g transform="translate(413.8,480.5) rotate(0.0) scale(1.00)"><path d="M12.4,-3.6 C14.5,-3.8 16,-3.8 17.5,-5.1 C19.2,-6.6 19.8,-9.5 21.5,-11.4 C22.6,-12.8 24.2,-13.3 25.3,-13 C27.2,-12.6 28.6,-11.6 28.3,-10.2 C27.9,-8 26,-5.5 26.6,-3.6 C27.2,-1.6 28.5,-0.2 29.7,1 C31,2.2 32.6,3 33.4,4.1 C34.4,5.5 34.5,6.7 33.9,7.8 C33.2,9.2 32.4,10.1 31.2,10.4 C30,10.7 28.7,10 27.5,9.2 C25.4,7.8 23.5,5.3 21.5,4.2 C20,3.4 18.8,3 17.5,3.1 C16,3.2 14.8,4.4 12.6,4.7 Z" fill="#fff" stroke="#22263f" stroke-width="2.1" stroke-linejoin="round"/><path d="M-9.6,-8.5 Q0,-6.6 9.6,-8.5 Q12.9,-8.9 12.7,-5.6 Q11.8,0 12.7,5.6 Q12.9,8.9 9.6,8.5 Q0,6.6 -9.6,8.5 Q-12.9,8.9 -12.7,5.6 Q-11.8,0 -12.7,-5.6 Q-12.9,-8.9 -9.6,-8.5 Z" fill="#fff" stroke="#22263f" stroke-width="2.1" stroke-linejoin="round"/></g>
<g transform="translate(412.8,504.5) rotate(4.0) scale(1.00)"><path d="M12.4,-3.6 C14.5,-3.8 16,-3.8 17.5,-5.1 C19.2,-6.6 19.8,-9.5 21.5,-11.4 C22.6,-12.8 24.2,-13.3 25.3,-13 C27.2,-12.6 28.6,-11.6 28.3,-10.2 C27.9,-8 26,-5.5 26.6,-3.6 C27.2,-1.6 28.5,-0.2 29.7,1 C31,2.2 32.6,3 33.4,4.1 C34.4,5.5 34.5,6.7 33.9,7.8 C33.2,9.2 32.4,10.1 31.2,10.4 C30,10.7 28.7,10 27.5,9.2 C25.4,7.8 23.5,5.3 21.5,4.2 C20,3.4 18.8,3 17.5,3.1 C16,3.2 14.8,4.4 12.6,4.7 Z" fill="#fff" stroke="#22263f" stroke-width="2.1" stroke-linejoin="round"/><path d="M-9.6,-8.5 Q0,-6.6 9.6,-8.5 Q12.9,-8.9 12.7,-5.6 Q11.8,0 12.7,5.6 Q12.9,8.9 9.6,8.5 Q0,6.6 -9.6,8.5 Q-12.9,8.9 -12.7,5.6 Q-11.8,0 -12.7,-5.6 Q-12.9,-8.9 -9.6,-8.5 Z" fill="#fff" stroke="#22263f" stroke-width="2.1" stroke-linejoin="round"/></g>
<g transform="translate(411.5,527.5) rotate(8.0) scale(1.00)"><path d="M12.4,-3.6 C14.5,-3.8 16,-3.8 17.5,-5.1 C19.2,-6.6 19.8,-9.5 21.5,-11.4 C22.6,-12.8 24.2,-13.3 25.3,-13 C27.2,-12.6 28.6,-11.6 28.3,-10.2 C27.9,-8 26,-5.5 26.6,-3.6 C27.2,-1.6 28.5,-0.2 29.7,1 C31,2.2 32.6,3 33.4,4.1 C34.4,5.5 34.5,6.7 33.9,7.8 C33.2,9.2 32.4,10.1 31.2,10.4 C30,10.7 28.7,10 27.5,9.2 C25.4,7.8 23.5,5.3 21.5,4.2 C20,3.4 18.8,3 17.5,3.1 C16,3.2 14.8,4.4 12.6,4.7 Z" fill="#fff" stroke="#22263f" stroke-width="2.1" stroke-linejoin="round"/><path d="M-9.6,-8.5 Q0,-6.6 9.6,-8.5 Q12.9,-8.9 12.7,-5.6 Q11.8,0 12.7,5.6 Q12.9,8.9 9.6,8.5 Q0,6.6 -9.6,8.5 Q-12.9,8.9 -12.7,5.6 Q-11.8,0 -12.7,-5.6 Q-12.9,-8.9 -9.6,-8.5 Z" fill="#fff" stroke="#22263f" stroke-width="2.1" stroke-linejoin="round"/></g>
<g transform="translate(409.0,550.5) rotate(12.0) scale(1.00)"><path d="M12.4,-3.6 C14.5,-3.8 16,-3.8 17.5,-5.1 C19.2,-6.6 19.8,-9.5 21.5,-11.4 C22.6,-12.8 24.2,-13.3 25.3,-13 C27.2,-12.6 28.6,-11.6 28.3,-10.2 C27.9,-8 26,-5.5 26.6,-3.6 C27.2,-1.6 28.5,-0.2 29.7,1 C31,2.2 32.6,3 33.4,4.1 C34.4,5.5 34.5,6.7 33.9,7.8 C33.2,9.2 32.4,10.1 31.2,10.4 C30,10.7 28.7,10 27.5,9.2 C25.4,7.8 23.5,5.3 21.5,4.2 C20,3.4 18.8,3 17.5,3.1 C16,3.2 14.8,4.4 12.6,4.7 Z" fill="#fff" stroke="#22263f" stroke-width="2.1" stroke-linejoin="round"/><path d="M-9.6,-8.5 Q0,-6.6 9.6,-8.5 Q12.9,-8.9 12.7,-5.6 Q11.8,0 12.7,5.6 Q12.9,8.9 9.6,8.5 Q0,6.6 -9.6,8.5 Q-12.9,8.9 -12.7,5.6 Q-11.8,0 -12.7,-5.6 Q-12.9,-8.9 -9.6,-8.5 Z" fill="#fff" stroke="#22263f" stroke-width="2.1" stroke-linejoin="round"/></g>
<g transform="translate(404.0,574.0) rotate(16.0) scale(1.00)"><path d="M12.4,-3.6 C14.5,-3.8 16,-3.8 17.5,-5.1 C19.2,-6.6 19.8,-9.5 21.5,-11.4 C22.6,-12.8 24.2,-13.3 25.3,-13 C27.2,-12.6 28.6,-11.6 28.3,-10.2 C27.9,-8 26,-5.5 26.6,-3.6 C27.2,-1.6 28.5,-0.2 29.7,1 C31,2.2 32.6,3 33.4,4.1 C34.4,5.5 34.5,6.7 33.9,7.8 C33.2,9.2 32.4,10.1 31.2,10.4 C30,10.7 28.7,10 27.5,9.2 C25.4,7.8 23.5,5.3 21.5,4.2 C20,3.4 18.8,3 17.5,3.1 C16,3.2 14.8,4.4 12.6,4.7 Z" fill="#fff" stroke="#22263f" stroke-width="2.1" stroke-linejoin="round"/><path d="M-9.6,-8.5 Q0,-6.6 9.6,-8.5 Q12.9,-8.9 12.7,-5.6 Q11.8,0 12.7,5.6 Q12.9,8.9 9.6,8.5 Q0,6.6 -9.6,8.5 Q-12.9,8.9 -12.7,5.6 Q-11.8,0 -12.7,-5.6 Q-12.9,-8.9 -9.6,-8.5 Z" fill="#fff" stroke="#22263f" stroke-width="2.1" stroke-linejoin="round"/></g>
<g transform="translate(398.7,596.5) rotate(20.0) scale(1.00)"><path d="M12.4,-3.6 C14.5,-3.8 16,-3.8 17.5,-5.1 C19.2,-6.6 19.8,-9.5 21.5,-11.4 C22.6,-12.8 24.2,-13.3 25.3,-13 C27.2,-12.6 28.6,-11.6 28.3,-10.2 C27.9,-8 26,-5.5 26.6,-3.6 C27.2,-1.6 28.5,-0.2 29.7,1 C31,2.2 32.6,3 33.4,4.1 C34.4,5.5 34.5,6.7 33.9,7.8 C33.2,9.2 32.4,10.1 31.2,10.4 C30,10.7 28.7,10 27.5,9.2 C25.4,7.8 23.5,5.3 21.5,4.2 C20,3.4 18.8,3 17.5,3.1 C16,3.2 14.8,4.4 12.6,4.7 Z" fill="#fff" stroke="#22263f" stroke-width="2.1" stroke-linejoin="round"/><path d="M-9.6,-8.5 Q0,-6.6 9.6,-8.5 Q12.9,-8.9 12.7,-5.6 Q11.8,0 12.7,5.6 Q12.9,8.9 9.6,8.5 Q0,6.6 -9.6,8.5 Q-12.9,8.9 -12.7,5.6 Q-11.8,0 -12.7,-5.6 Q-12.9,-8.9 -9.6,-8.5 Z" fill="#fff" stroke="#22263f" stroke-width="2.1" stroke-linejoin="round"/></g>
<g transform="translate(392.4,618.5) rotate(23.0) scale(1.00)"><path d="M12.4,-3.6 C14.5,-3.8 16,-3.8 17.5,-5.1 C19.2,-6.6 19.8,-9.5 21.5,-11.4 C22.6,-12.8 24.2,-13.3 25.3,-13 C27.2,-12.6 28.6,-11.6 28.3,-10.2 C27.9,-8 26,-5.5 26.6,-3.6 C27.2,-1.6 28.5,-0.2 29.7,1 C31,2.2 32.6,3 33.4,4.1 C34.4,5.5 34.5,6.7 33.9,7.8 C33.2,9.2 32.4,10.1 31.2,10.4 C30,10.7 28.7,10 27.5,9.2 C25.4,7.8 23.5,5.3 21.5,4.2 C20,3.4 18.8,3 17.5,3.1 C16,3.2 14.8,4.4 12.6,4.7 Z" fill="#fff" stroke="#22263f" stroke-width="2.1" stroke-linejoin="round"/><path d="M-9.6,-8.5 Q0,-6.6 9.6,-8.5 Q12.9,-8.9 12.7,-5.6 Q11.8,0 12.7,5.6 Q12.9,8.9 9.6,8.5 Q0,6.6 -9.6,8.5 Q-12.9,8.9 -12.7,5.6 Q-11.8,0 -12.7,-5.6 Q-12.9,-8.9 -9.6,-8.5 Z" fill="#fff" stroke="#22263f" stroke-width="2.1" stroke-linejoin="round"/></g>
<g transform="translate(385.0,641.5) rotate(26.0) scale(1.00)"><path d="M12.4,-3.6 C14.5,-3.8 16,-3.8 17.5,-5.1 C19.2,-6.6 19.8,-9.5 21.5,-11.4 C22.6,-12.8 24.2,-13.3 25.3,-13 C27.2,-12.6 28.6,-11.6 28.3,-10.2 C27.9,-8 26,-5.5 26.6,-3.6 C27.2,-1.6 28.5,-0.2 29.7,1 C31,2.2 32.6,3 33.4,4.1 C34.4,5.5 34.5,6.7 33.9,7.8 C33.2,9.2 32.4,10.1 31.2,10.4 C30,10.7 28.7,10 27.5,9.2 C25.4,7.8 23.5,5.3 21.5,4.2 C20,3.4 18.8,3 17.5,3.1 C16,3.2 14.8,4.4 12.6,4.7 Z" fill="#fff" stroke="#22263f" stroke-width="2.1" stroke-linejoin="round"/><path d="M-9.6,-8.5 Q0,-6.6 9.6,-8.5 Q12.9,-8.9 12.7,-5.6 Q11.8,0 12.7,5.6 Q12.9,8.9 9.6,8.5 Q0,6.6 -9.6,8.5 Q-12.9,8.9 -12.7,5.6 Q-11.8,0 -12.7,-5.6 Q-12.9,-8.9 -9.6,-8.5 Z" fill="#fff" stroke="#22263f" stroke-width="2.1" stroke-linejoin="round"/></g>
<path d="M217.3,183.7 Q252,180.3 286,183 L287.5,175.4 L303.2,188.6 L285,200.2 L285.5,192.4 Q252,192.3 219.4,197.4 Z" fill="#fff"/><path d="M217.3,183.7 Q252,180.3 286,183 L287.5,175.4 L303.2,188.6 L285,200.2 L285.5,192.4 Q252,192.3 219.4,197.4 Z" fill="#379bcd" transform="translate(-1.5,0.6)"/><path d="M217.3,183.7 Q252,180.3 286,183 L287.5,175.4 L303.2,188.6 L285,200.2 L285.5,192.4 Q252,192.3 219.4,197.4 Z" fill="none" stroke="#22263f" stroke-width="1.8" stroke-linejoin="miter"/>
<path d="M313.8,184.9 C316.8,185.8 326.1,186.9 331.9,190.0 C337.7,193.1 344.0,198.5 348.7,203.3 C353.4,208.1 357.1,213.8 359.9,218.7 C362.7,223.6 364.6,230.4 365.5,232.7 L373.2,231 L362.4,250.1 L348,236.6 L355.7,235.5 C355.0,233.6 353.6,228.0 351.5,224.3 C349.4,220.6 346.8,216.8 343.1,213.1 C339.4,209.4 334.5,204.6 329.1,201.9 C323.8,199.2 314.0,197.8 311.0,197.0Z" fill="#fff"/><path d="M313.8,184.9 C316.8,185.8 326.1,186.9 331.9,190.0 C337.7,193.1 344.0,198.5 348.7,203.3 C353.4,208.1 357.1,213.8 359.9,218.7 C362.7,223.6 364.6,230.4 365.5,232.7 L373.2,231 L362.4,250.1 L348,236.6 L355.7,235.5 C355.0,233.6 353.6,228.0 351.5,224.3 C349.4,220.6 346.8,216.8 343.1,213.1 C339.4,209.4 334.5,204.6 329.1,201.9 C323.8,199.2 314.0,197.8 311.0,197.0Z" fill="#379bcd" transform="translate(-1.5,0.6)"/><path d="M313.8,184.9 C316.8,185.8 326.1,186.9 331.9,190.0 C337.7,193.1 344.0,198.5 348.7,203.3 C353.4,208.1 357.1,213.8 359.9,218.7 C362.7,223.6 364.6,230.4 365.5,232.7 L373.2,231 L362.4,250.1 L348,236.6 L355.7,235.5 C355.0,233.6 353.6,228.0 351.5,224.3 C349.4,220.6 346.8,216.8 343.1,213.1 C339.4,209.4 334.5,204.6 329.1,201.9 C323.8,199.2 314.0,197.8 311.0,197.0Z" fill="none" stroke="#22263f" stroke-width="1.8" stroke-linejoin="miter"/>
<path d="M355.1,259.2 L369.1,260.8 C368.4,265.4 366.3,280.0 364.7,288.1 C363.1,296.2 361.7,302.8 359.6,309.7 C357.5,316.6 353.2,326.1 351.9,329.4 L360.8,330.3 L343.7,342.5 L336.1,323.7 L342.4,326.3 C343.3,322.7 346.3,312.1 348.1,304.7 C349.9,297.3 352.0,289.4 353.2,281.8 C354.4,274.2 354.8,263.0 355.1,259.2Z" fill="#fff"/><path d="M355.1,259.2 L369.1,260.8 C368.4,265.4 366.3,280.0 364.7,288.1 C363.1,296.2 361.7,302.8 359.6,309.7 C357.5,316.6 353.2,326.1 351.9,329.4 L360.8,330.3 L343.7,342.5 L336.1,323.7 L342.4,326.3 C343.3,322.7 346.3,312.1 348.1,304.7 C349.9,297.3 352.0,289.4 353.2,281.8 C354.4,274.2 354.8,263.0 355.1,259.2Z" fill="#379bcd" transform="translate(-1.5,0.6)"/><path d="M355.1,259.2 L369.1,260.8 C368.4,265.4 366.3,280.0 364.7,288.1 C363.1,296.2 361.7,302.8 359.6,309.7 C357.5,316.6 353.2,326.1 351.9,329.4 L360.8,330.3 L343.7,342.5 L336.1,323.7 L342.4,326.3 C343.3,322.7 346.3,312.1 348.1,304.7 C349.9,297.3 352.0,289.4 353.2,281.8 C354.4,274.2 354.8,263.0 355.1,259.2Z" fill="none" stroke="#22263f" stroke-width="1.8" stroke-linejoin="miter"/>
<path d="M319.5,338.3 L287.7,380.4 L283.7,375.9 L285.3,394.3 L303.4,390.8 L298.0,388.2 L329.7,346.1Z" fill="#fff"/><path d="M319.5,338.3 L287.7,380.4 L283.7,375.9 L285.3,394.3 L303.4,390.8 L298.0,388.2 L329.7,346.1Z" fill="#379bcd" transform="translate(-1.5,0.6)"/><path d="M319.5,338.3 L287.7,380.4 L283.7,375.9 L285.3,394.3 L303.4,390.8 L298.0,388.2 L329.7,346.1Z" fill="none" stroke="#22263f" stroke-width="1.8" stroke-linejoin="miter"/>
<path d="M277.5,398.5 L253.6,445.0 L249.0,441.2 L253.8,459.1 L271.1,452.6 L265.4,451.0 L289.3,404.5Z" fill="#fff"/><path d="M277.5,398.5 L253.6,445.0 L249.0,441.2 L253.8,459.1 L271.1,452.6 L265.4,451.0 L289.3,404.5Z" fill="#379bcd" transform="translate(-1.5,0.6)"/><path d="M277.5,398.5 L253.6,445.0 L249.0,441.2 L253.8,459.1 L271.1,452.6 L265.4,451.0 L289.3,404.5Z" fill="none" stroke="#22263f" stroke-width="1.8" stroke-linejoin="miter"/>
<path d="M352.1,358.9 L358.7,418.8 L353.5,418.6 L367.2,431.5 L377.8,416.0 L372.8,417.3 L366.3,357.3Z" fill="#fff"/><path d="M352.1,358.9 L358.7,418.8 L353.5,418.6 L367.2,431.5 L377.8,416.0 L372.8,417.3 L366.3,357.3Z" fill="#379bcd" transform="translate(-1.5,0.6)"/><path d="M352.1,358.9 L358.7,418.8 L353.5,418.6 L367.2,431.5 L377.8,416.0 L372.8,417.3 L366.3,357.3Z" fill="none" stroke="#22263f" stroke-width="1.8" stroke-linejoin="miter"/>
<path d="M360.2,440.0 L360.6,499.8 L355.2,499.6 L367.5,513.3 L379.6,499.4 L374.2,499.8 L373.8,440.0Z" fill="#fff"/><path d="M360.2,440.0 L360.6,499.8 L355.2,499.6 L367.5,513.3 L379.6,499.4 L374.2,499.8 L373.8,440.0Z" fill="#379bcd" transform="translate(-1.5,0.6)"/><path d="M360.2,440.0 L360.6,499.8 L355.2,499.6 L367.5,513.3 L379.6,499.4 L374.2,499.8 L373.8,440.0Z" fill="none" stroke="#22263f" stroke-width="1.8" stroke-linejoin="miter"/>
<path d="M231.3,335.6 L194.8,311.3 L201.1,306.1 L173.1,307.8 L182.4,334.3 L184.8,326.4 L221.3,350.6Z" fill="#fff"/><path d="M231.3,335.6 L194.8,311.3 L201.1,306.1 L173.1,307.8 L182.4,334.3 L184.8,326.4 L221.3,350.6Z" fill="#f6bd53" transform="translate(-0.8,0.8)"/><path d="M231.3,335.6 L194.8,311.3 L201.1,306.1 L173.1,307.8 L182.4,334.3 L184.8,326.4 L221.3,350.6Z" fill="none" stroke="#22263f" stroke-width="1.8" stroke-linejoin="miter"/>
<path d="M201.7,388.3 L161.7,370.8 L167.1,364.4 L140.0,370.5 L153.9,394.6 L155.0,386.2 L194.9,403.7Z" fill="#fff"/><path d="M201.7,388.3 L161.7,370.8 L167.1,364.4 L140.0,370.5 L153.9,394.6 L155.0,386.2 L194.9,403.7Z" fill="#f6bd53" transform="translate(-0.8,0.8)"/><path d="M201.7,388.3 L161.7,370.8 L167.1,364.4 L140.0,370.5 L153.9,394.6 L155.0,386.2 L194.9,403.7Z" fill="none" stroke="#22263f" stroke-width="1.8" stroke-linejoin="miter"/>
<path d="M184.8,439.7 L142.4,430.7 L146.3,423.6 L121.0,435.1 L139.5,455.9 L138.7,447.9 L181.2,456.9Z" fill="#fff"/><path d="M184.8,439.7 L142.4,430.7 L146.3,423.6 L121.0,435.1 L139.5,455.9 L138.7,447.9 L181.2,456.9Z" fill="#f6bd53" transform="translate(-0.8,0.8)"/><path d="M184.8,439.7 L142.4,430.7 L146.3,423.6 L121.0,435.1 L139.5,455.9 L138.7,447.9 L181.2,456.9Z" fill="none" stroke="#22263f" stroke-width="1.8" stroke-linejoin="miter"/>
<path d="M251.0,502.3 L241.5,544.2 L234.1,540.3 L245.7,565.2 L266.9,547.8 L258.5,548.1 L268.0,506.1Z" fill="#fff"/><path d="M251.0,502.3 L241.5,544.2 L234.1,540.3 L245.7,565.2 L266.9,547.8 L258.5,548.1 L268.0,506.1Z" fill="#f6bd53" transform="translate(-0.8,0.5)"/><path d="M251.0,502.3 L241.5,544.2 L234.1,540.3 L245.7,565.2 L266.9,547.8 L258.5,548.1 L268.0,506.1Z" fill="none" stroke="#22263f" stroke-width="1.8" stroke-linejoin="miter"/>
<path d="M298.0,526.3 L288.5,568.3 L281.1,564.3 L292.8,589.2 L314.0,571.7 L305.6,572.1 L315.0,530.1Z" fill="#fff"/><path d="M298.0,526.3 L288.5,568.3 L281.1,564.3 L292.8,589.2 L314.0,571.7 L305.6,572.1 L315.0,530.1Z" fill="#f6bd53" transform="translate(-0.8,0.5)"/><path d="M298.0,526.3 L288.5,568.3 L281.1,564.3 L292.8,589.2 L314.0,571.7 L305.6,572.1 L315.0,530.1Z" fill="none" stroke="#22263f" stroke-width="1.8" stroke-linejoin="miter"/>
<text x="103.5" y="187.3" text-anchor="start" font-size="15.2" textLength="103.1" lengthAdjust="spacingAndGlyphs">AIR ENTERING</text>
<text x="131.0" y="205.0" text-anchor="start" font-size="15.2" textLength="47.0" lengthAdjust="spacingAndGlyphs">LUNGS</text>
<text x="97.0" y="298.4" text-anchor="start" font-size="15.2" textLength="66.9" lengthAdjust="spacingAndGlyphs">RIBS AND</text>
<text x="91.4" y="315.8" text-anchor="start" font-size="15.2" textLength="72.2" lengthAdjust="spacingAndGlyphs">STERNUM</text>
<text x="110.7" y="333.2" text-anchor="start" font-size="15.2" textLength="53.2" lengthAdjust="spacingAndGlyphs">RAISED</text>
<text x="440.0" y="222.6" text-anchor="start" font-size="15.2" textLength="82.0" lengthAdjust="spacingAndGlyphs">VOLUME OF</text>
<text x="450.5" y="240.0" text-anchor="start" font-size="15.2" textLength="61.1" lengthAdjust="spacingAndGlyphs">THORAX</text>
<text x="440.0" y="257.1" text-anchor="start" font-size="15.2" textLength="82.0" lengthAdjust="spacingAndGlyphs">INCREASED</text>
<path d="M523,263.7 L423.5,263.7 L365.9,320.3" fill="none" stroke="#22263f" stroke-width="1.9"/>
<text x="67.5" y="547.5" text-anchor="start" font-size="15.2" textLength="65.0" lengthAdjust="spacingAndGlyphs">RIB CAGE</text>
<path d="M136,544 L147.5,544 L197,516" fill="none" stroke="#22263f" stroke-width="1.9"/>
<text x="217.5" y="607.5" text-anchor="start" font-size="15.2" textLength="88.5" lengthAdjust="spacingAndGlyphs">DIAPHRAGM</text>
<text x="212.5" y="625.5" text-anchor="start" font-size="15.2" textLength="98.5" lengthAdjust="spacingAndGlyphs">CONTRACTED</text>
<text x="242.5" y="734.0" text-anchor="start" font-size="24.6" textLength="157.5" lengthAdjust="spacingAndGlyphs" class="t">INSPIRATION</text>
<path d="M810.5,263.0 C810.2,265.2 812.4,270.2 809.0,276.0 C805.6,281.8 796.1,289.9 790.0,298.0 C783.9,306.1 778.4,317.0 772.5,324.7 C766.6,332.4 760.3,337.2 754.7,344.3 C749.1,351.4 743.5,358.9 738.7,367.4 C733.9,375.8 729.6,385.4 726.0,395.0 C722.4,404.6 719.5,415.0 717.0,425.0 C714.5,435.0 712.5,445.2 711.0,455.0 C709.5,464.8 708.5,479.2 708.0,484.0 L737.5,468.5 C739.4,467.1 744.1,462.5 749.0,460.0 C753.9,457.5 761.6,454.9 766.8,453.6 C772.0,452.3 774.8,450.8 780.0,452.0 C785.2,453.2 791.9,456.2 797.8,461.0 C803.7,465.8 811.1,474.6 815.6,481.0 C820.1,487.4 822.4,494.8 824.5,499.5 C826.6,504.2 827.7,507.4 828.3,509.0 L842.5,642.5 L868,560 L866,430 L850,270 L826,262Z" fill="#f9d5c8"/>
<path d="M851.0,300.0 C850.7,301.8 848.7,304.3 849.0,311.0 C849.3,317.7 851.4,329.3 853.0,340.0 C854.6,350.7 856.9,361.7 858.5,375.0 C860.1,388.3 861.6,407.3 862.5,420.0 C863.4,432.7 863.6,437.9 863.6,451.2 C863.6,464.5 863.6,485.2 862.7,500.0 C861.8,514.8 860.1,523.3 858.0,540.0 C855.9,556.7 852.6,583.0 850.0,600.0 C847.4,617.0 843.5,635.2 842.2,642.2 L861.5,644.8 C862.8,640.9 866.8,629.1 869.1,621.4 C871.4,613.8 873.6,606.6 875.5,599.1 C877.5,591.5 879.2,583.9 881.0,576.1 C882.8,568.2 884.8,560.0 886.1,552.1 C887.4,544.1 888.1,536.4 888.7,528.5 C889.4,520.7 889.8,513.1 890.2,505.0 C890.6,497.0 891.1,488.5 891.2,480.3 C891.3,472.1 891.0,463.8 890.7,455.6 C890.4,447.4 889.9,439.4 889.5,431.3 C889.0,423.3 888.5,415.2 887.9,407.1 C887.4,399.0 887.2,390.8 886.4,382.8 C885.6,374.8 884.2,367.1 883.1,359.2 C882.0,351.3 881.0,343.4 879.8,335.6 C878.5,327.7 876.3,316.0 875.6,312.1Z" fill="#f9d5c8"/>
<path d="M708.0,484.5 C710.3,483.0 717.1,478.2 722.0,475.5 C726.9,472.8 734.9,469.7 737.5,468.5 C736.5,470.6 733.2,476.1 731.5,481.0 C729.8,485.9 728.9,489.4 727.0,498.0 C725.1,506.6 722.4,522.0 720.0,532.3 C717.6,542.6 714.8,553.6 712.5,560.0 C710.2,566.4 708.3,567.7 706.5,570.5 C704.7,573.3 702.6,575.9 701.8,577.0 C702.1,574.0 702.9,566.0 703.6,559.0 C704.3,552.0 705.4,543.2 706.0,535.0 C706.6,526.8 707.5,516.7 707.5,510.0 C707.5,503.3 705.9,499.2 706.0,495.0 C706.1,490.8 707.7,486.2 708.0,484.5Z" fill="#e28f87"/>
<path d="M708.0,484.5 C710.7,481.2 717.1,478.2 722.0,475.5 C726.9,472.8 736.7,467.9 737.5,468.5 C738.3,469.1 729.9,474.2 727.0,479.0 C724.1,483.8 722.2,489.0 720.0,497.0 C717.8,505.0 716.0,517.5 714.0,527.0 C712.0,536.5 709.9,546.0 708.0,554.0 C706.1,562.0 703.2,574.2 702.5,575.0 C701.8,575.8 703.0,565.7 703.6,559.0 C704.2,552.3 705.4,543.2 706.0,535.0 C706.6,526.8 707.5,516.7 707.5,510.0 C707.5,503.3 705.9,499.2 706.0,495.0 C706.1,490.8 705.3,487.8 708.0,484.5Z" fill="#c96b67"/>
<path d="M708.0,484.5 C710.3,483.0 717.1,478.2 722.0,475.5 C726.9,472.8 734.9,469.7 737.5,468.5" fill="none" stroke="#22263f" stroke-width="1.5"/>
<path d="M828.3,509.0 C828.8,512.5 830.2,521.2 831.0,530.0 C831.8,538.8 832.8,550.3 833.0,562.0 C833.2,573.7 832.9,588.2 832.5,600.0 C832.1,611.8 831.4,622.7 830.6,633.0 C829.9,643.3 828.8,652.8 828.0,662.0 C827.2,671.2 826.1,683.7 825.7,688.0 L842.5,642.5 C842.8,640.1 843.8,635.1 844.0,628.0 C844.2,620.9 844.5,611.0 844.0,600.0 C843.5,589.0 842.3,573.7 841.0,562.0 C839.7,550.3 837.9,539.8 836.0,530.0 C834.1,520.2 830.6,507.5 829.5,503.0Z" fill="#c96b67"/>
<path d="M828.3,509.0 C828.8,512.5 830.2,521.2 831.0,530.0 C831.8,538.8 832.8,550.3 833.0,562.0 C833.2,573.7 832.9,588.2 832.5,600.0 C832.1,611.8 831.4,622.7 830.6,633.0 C829.9,643.3 828.8,652.8 828.0,662.0 C827.2,671.2 826.1,683.7 825.7,688.0 L829.5,655 L836.5,600 L836,562 L832.5,530Z" fill="#e28f87"/>
<path d="M825.7,688 L842.5,642.5 C842.8,640.1 843.8,635.1 844.0,628.0 C844.2,620.9 844.5,611.0 844.0,600.0 C843.5,589.0 842.3,573.7 841.0,562.0 C839.7,550.3 837.9,539.8 836.0,530.0 C834.1,520.2 830.6,507.5 829.5,503.0" fill="none" stroke="#22263f" stroke-width="1.7" stroke-linejoin="round"/>
<path d="M737.5,468.5 C739.4,467.1 744.1,462.5 749.0,460.0 C753.9,457.5 761.6,454.9 766.8,453.6 C772.0,452.3 774.8,450.8 780.0,452.0 C785.2,453.2 791.9,456.2 797.8,461.0 C803.7,465.8 811.1,474.6 815.6,481.0 C820.1,487.4 822.4,494.8 824.5,499.5 C826.6,504.2 827.7,507.4 828.3,509.0 L826.1,509.9 C825.4,508.3 824.3,505.1 822.1,500.6 C820.0,496.0 817.6,488.9 813.1,482.7 C808.7,476.6 801.3,468.2 795.6,463.7 C789.9,459.2 783.7,456.9 779.1,455.9 C774.5,454.9 772.6,456.5 767.9,457.9 C763.2,459.2 755.8,461.7 751.0,463.9 C746.2,466.1 741.2,469.7 739.3,470.9Z" fill="#c96f6b"/>
<path d="M701.8,577.0 C702.6,575.9 704.7,573.3 706.5,570.5 C708.3,567.7 710.2,566.4 712.5,560.0 C714.8,553.6 717.6,542.6 720.0,532.3 C722.4,522.0 725.1,506.6 727.0,498.0 C728.9,489.4 729.8,485.9 731.5,481.0 C733.2,476.1 734.6,472.0 737.5,468.5 C740.4,465.0 744.1,462.5 749.0,460.0 C753.9,457.5 761.6,454.9 766.8,453.6 C772.0,452.3 774.8,450.8 780.0,452.0 C785.2,453.2 791.9,456.2 797.8,461.0 C803.7,465.8 811.1,474.6 815.6,481.0 C820.1,487.4 822.4,494.8 824.5,499.5 C826.6,504.2 827.2,503.9 828.3,509.0 C829.4,514.1 830.2,521.2 831.0,530.0 C831.8,538.8 832.8,550.3 833.0,562.0 C833.2,573.7 832.9,588.2 832.5,600.0 C832.1,611.8 831.4,622.7 830.6,633.0 C829.9,643.3 828.8,652.8 828.0,662.0 C827.2,671.2 826.1,683.7 825.7,688.0" fill="none" stroke="#22263f" stroke-width="1.8" stroke-linecap="round"/>
<clipPath id="clR"><path d="M812.6,263.3 C812.4,266.6 812.4,276.4 811.5,283.0 C810.6,289.6 809.6,296.7 807.2,303.0 C804.9,309.3 801.4,315.0 797.4,321.0 C793.4,327.0 787.7,333.0 783.2,339.0 C778.8,345.0 774.9,350.9 770.7,356.8 C766.6,362.7 762.0,369.1 758.3,374.6 C754.6,380.1 751.7,384.4 748.5,390.0 C745.3,395.6 741.7,402.5 739.0,408.0 C736.3,413.5 734.1,419.0 732.5,423.0 C730.9,427.0 729.6,429.4 729.3,432.0 C729.0,434.6 729.5,436.8 730.5,438.5 C731.5,440.2 732.8,441.6 735.0,442.3 C737.2,443.1 738.3,443.3 743.6,443.0 C748.9,442.7 760.7,440.7 766.8,440.3 C772.9,439.9 774.8,439.5 780.0,440.5 C785.2,441.5 791.9,443.2 797.8,446.5 C803.7,449.8 809.7,453.6 815.6,460.0 C821.5,466.4 828.1,477.0 833.4,485.0 C838.7,493.0 844.2,503.0 847.6,508.1 C851.0,513.2 851.9,513.9 853.5,515.5 C855.1,517.1 856.2,517.9 857.5,517.5 C858.8,517.1 860.1,515.9 861.0,513.0 C861.9,510.1 862.3,510.3 862.7,500.0 C863.1,489.7 863.6,464.5 863.6,451.2 C863.6,437.9 863.1,430.2 862.5,420.0 C861.9,409.8 861.2,399.2 860.0,390.0 C858.8,380.8 857.1,372.5 855.5,365.0 C853.9,357.5 852.0,351.7 850.5,345.0 C849.0,338.3 847.6,332.5 846.5,325.0 C845.4,317.5 843.9,308.9 843.8,300.0 C843.7,291.1 845.6,276.2 846.0,271.5 L840,266 L826,259 L819,263Z"/></clipPath>
<path d="M812.6,263.3 C812.4,266.6 812.4,276.4 811.5,283.0 C810.6,289.6 809.6,296.7 807.2,303.0 C804.9,309.3 801.4,315.0 797.4,321.0 C793.4,327.0 787.7,333.0 783.2,339.0 C778.8,345.0 774.9,350.9 770.7,356.8 C766.6,362.7 762.0,369.1 758.3,374.6 C754.6,380.1 751.7,384.4 748.5,390.0 C745.3,395.6 741.7,402.5 739.0,408.0 C736.3,413.5 734.1,419.0 732.5,423.0 C730.9,427.0 729.6,429.4 729.3,432.0 C729.0,434.6 729.5,436.8 730.5,438.5 C731.5,440.2 732.8,441.6 735.0,442.3 C737.2,443.1 738.3,443.3 743.6,443.0 C748.9,442.7 760.7,440.7 766.8,440.3 C772.9,439.9 774.8,439.5 780.0,440.5 C785.2,441.5 791.9,443.2 797.8,446.5 C803.7,449.8 809.7,453.6 815.6,460.0 C821.5,466.4 828.1,477.0 833.4,485.0 C838.7,493.0 844.2,503.0 847.6,508.1 C851.0,513.2 851.9,513.9 853.5,515.5 C855.1,517.1 856.2,517.9 857.5,517.5 C858.8,517.1 860.1,515.9 861.0,513.0 C861.9,510.1 862.3,510.3 862.7,500.0 C863.1,489.7 863.6,464.5 863.6,451.2 C863.6,437.9 863.1,430.2 862.5,420.0 C861.9,409.8 861.2,399.2 860.0,390.0 C858.8,380.8 857.1,372.5 855.5,365.0 C853.9,357.5 852.0,351.7 850.5,345.0 C849.0,338.3 847.6,332.5 846.5,325.0 C845.4,317.5 843.9,308.9 843.8,300.0 C843.7,291.1 845.6,276.2 846.0,271.5 L840,266 L826,259 L819,263Z" fill="#f0a9a6"/>
<g clip-path="url(#clR)"><path d="M812.6,263.3 C812.4,266.6 812.4,276.4 811.5,283.0 C810.6,289.6 809.6,296.7 807.2,303.0 C804.9,309.3 801.4,315.0 797.4,321.0 C793.4,327.0 787.7,333.0 783.2,339.0 C778.8,345.0 774.9,350.9 770.7,356.8 C766.6,362.7 762.0,369.1 758.3,374.6 C754.6,380.1 751.7,384.4 748.5,390.0 C745.3,395.6 741.7,402.5 739.0,408.0 C736.3,413.5 734.1,419.0 732.5,423.0 C730.9,427.0 729.6,429.4 729.3,432.0 C729.0,434.6 729.5,436.8 730.5,438.5 C731.5,440.2 732.8,441.6 735.0,442.3 C737.2,443.1 738.3,443.3 743.6,443.0 C748.9,442.7 760.7,440.7 766.8,440.3 C772.9,439.9 774.8,439.5 780.0,440.5 C785.2,441.5 791.9,443.2 797.8,446.5 C803.7,449.8 809.7,453.6 815.6,460.0 C821.5,466.4 828.1,477.0 833.4,485.0 C838.7,493.0 844.2,503.0 847.6,508.1 C851.0,513.2 851.9,513.9 853.5,515.5 C855.1,517.1 856.2,517.9 857.5,517.5 C858.8,517.1 860.1,515.9 861.0,513.0 C861.9,510.1 862.3,510.3 862.7,500.0 C863.1,489.7 863.6,464.5 863.6,451.2 C863.6,437.9 863.1,430.2 862.5,420.0 C861.9,409.8 861.2,399.2 860.0,390.0 C858.8,380.8 857.1,372.5 855.5,365.0 C853.9,357.5 852.0,351.7 850.5,345.0 C849.0,338.3 847.6,332.5 846.5,325.0 C845.4,317.5 843.9,308.9 843.8,300.0 C843.7,291.1 845.6,276.2 846.0,271.5" fill="none" stroke="#b85a56" stroke-width="9.6"/><path d="M812.6,263.3 C812.4,266.6 812.4,276.4 811.5,283.0 C810.6,289.6 809.6,296.7 807.2,303.0 C804.9,309.3 801.4,315.0 797.4,321.0 C793.4,327.0 787.7,333.0 783.2,339.0 C778.8,345.0 774.9,350.9 770.7,356.8 C766.6,362.7 762.0,369.1 758.3,374.6 C754.6,380.1 751.7,384.4 748.5,390.0 C745.3,395.6 741.7,402.5 739.0,408.0 C736.3,413.5 734.1,419.0 732.5,423.0 C730.9,427.0 729.6,429.4 729.3,432.0 C729.0,434.6 729.5,436.8 730.5,438.5 C731.5,440.2 732.8,441.6 735.0,442.3 C737.2,443.1 738.3,443.3 743.6,443.0 C748.9,442.7 760.7,440.7 766.8,440.3 C772.9,439.9 774.8,439.5 780.0,440.5 C785.2,441.5 791.9,443.2 797.8,446.5 C803.7,449.8 809.7,453.6 815.6,460.0 C821.5,466.4 828.1,477.0 833.4,485.0 C838.7,493.0 844.2,503.0 847.6,508.1 C851.0,513.2 851.9,513.9 853.5,515.5 C855.1,517.1 856.2,517.9 857.5,517.5 C858.8,517.1 860.1,515.9 861.0,513.0 C861.9,510.1 862.3,510.3 862.7,500.0 C863.1,489.7 863.6,464.5 863.6,451.2 C863.6,437.9 863.1,430.2 862.5,420.0 C861.9,409.8 861.2,399.2 860.0,390.0 C858.8,380.8 857.1,372.5 855.5,365.0 C853.9,357.5 852.0,351.7 850.5,345.0 C849.0,338.3 847.6,332.5 846.5,325.0 C845.4,317.5 843.9,308.9 843.8,300.0 C843.7,291.1 845.6,276.2 846.0,271.5" fill="none" stroke="#d57b74" stroke-width="7.4"/></g>
<path d="M812.6,263.3 C812.4,266.6 812.4,276.4 811.5,283.0 C810.6,289.6 809.6,296.7 807.2,303.0 C804.9,309.3 801.4,315.0 797.4,321.0 C793.4,327.0 787.7,333.0 783.2,339.0 C778.8,345.0 774.9,350.9 770.7,356.8 C766.6,362.7 762.0,369.1 758.3,374.6 C754.6,380.1 751.7,384.4 748.5,390.0 C745.3,395.6 741.7,402.5 739.0,408.0 C736.3,413.5 734.1,419.0 732.5,423.0 C730.9,427.0 729.6,429.4 729.3,432.0 C729.0,434.6 729.5,436.8 730.5,438.5 C731.5,440.2 732.8,441.6 735.0,442.3 C737.2,443.1 738.3,443.3 743.6,443.0 C748.9,442.7 760.7,440.7 766.8,440.3 C772.9,439.9 774.8,439.5 780.0,440.5 C785.2,441.5 791.9,443.2 797.8,446.5 C803.7,449.8 809.7,453.6 815.6,460.0 C821.5,466.4 828.1,477.0 833.4,485.0 C838.7,493.0 844.2,503.0 847.6,508.1 C851.0,513.2 851.9,513.9 853.5,515.5 C855.1,517.1 856.2,517.9 857.5,517.5 C858.8,517.1 860.1,515.9 861.0,513.0 C861.9,510.1 862.3,510.3 862.7,500.0 C863.1,489.7 863.6,464.5 863.6,451.2 C863.6,437.9 863.1,430.2 862.5,420.0 C861.9,409.8 861.1,399.2 860.0,390.0 C858.9,380.8 857.1,371.7 856.0,365.0 C854.9,358.3 854.0,356.4 853.2,350.0 C852.4,343.6 852.0,334.5 851.2,326.3 C850.4,318.1 848.9,309.9 848.6,300.8 C848.3,291.7 849.2,276.5 849.3,271.6" fill="none" stroke="#22263f" stroke-width="2.0"/>
<path d="M811.7,271.5 C807.6,274.6 795.9,282.5 786.8,290.0 C777.7,297.5 763.5,309.5 757.3,316.6 C751.1,323.6 753.0,327.5 749.5,332.1 C746.1,336.8 739.8,339.7 736.6,344.6 C733.5,349.5 733.5,356.5 730.6,361.8 C727.8,367.1 721.7,370.8 719.4,376.3 C717.0,381.7 718.2,388.8 716.3,394.5 C714.4,400.2 709.4,404.8 707.7,410.5 C706.0,416.2 707.7,423.0 706.2,428.9 C704.8,434.8 700.1,440.0 699.0,445.9 C697.8,451.7 700.1,458.1 699.2,464.0 C698.3,469.9 694.2,475.3 693.5,481.1 C692.9,487.0 695.7,493.3 695.3,499.3 C694.8,505.2 691.6,509.7 691.0,516.6 C690.4,523.6 690.9,532.6 691.5,541.0 C692.1,549.4 693.2,560.1 694.5,567.0 C695.8,573.9 698.7,579.6 699.5,582.1 C700.1,579.6 702.2,573.9 703.2,567.0 C704.2,560.1 704.9,549.2 705.5,541.0 C706.1,532.8 706.9,524.6 706.8,517.8 C706.7,510.9 704.4,505.8 704.8,499.9 C705.2,494.1 708.6,488.6 709.3,482.9 C709.9,477.1 707.8,471.1 708.7,465.4 C709.6,459.8 713.3,454.7 714.4,449.0 C715.6,443.3 714.2,436.9 715.6,431.2 C717.0,425.5 721.2,420.5 722.9,414.9 C724.5,409.3 723.6,403.0 725.4,397.6 C727.2,392.2 731.5,387.8 733.8,382.6 C736.1,377.4 736.4,371.3 739.1,366.4 C741.7,361.5 746.9,357.9 749.9,353.1 C753.0,348.3 753.9,342.4 757.3,337.9 C760.6,333.3 764.9,332.3 770.0,326.0 C775.2,319.6 781.1,308.1 788.0,300.0 C794.9,291.9 807.8,281.2 811.7,277.5Z" fill="url(#rcR)" stroke="#22263f" stroke-width="1.8" stroke-linejoin="round"/><ellipse cx="763.6" cy="321.2" rx="10.9" ry="5.4" transform="rotate(126.5 763.6 321.2)" fill="#fff" stroke="#22263f" stroke-width="1.8"/><ellipse cx="743.2" cy="348.8" rx="10.9" ry="5.4" transform="rotate(122.5 743.2 348.8)" fill="#fff" stroke="#22263f" stroke-width="1.8"/><ellipse cx="726.5" cy="379.4" rx="10.9" ry="5.4" transform="rotate(113.7 726.5 379.4)" fill="#fff" stroke="#22263f" stroke-width="1.8"/><ellipse cx="715.2" cy="412.7" rx="10.9" ry="5.4" transform="rotate(106.3 715.2 412.7)" fill="#fff" stroke="#22263f" stroke-width="1.8"/><ellipse cx="706.6" cy="447.4" rx="10.9" ry="5.4" transform="rotate(101.3 706.6 447.4)" fill="#fff" stroke="#22263f" stroke-width="1.8"/><ellipse cx="701.3" cy="482.0" rx="10.9" ry="5.4" transform="rotate(96.4 701.3 482.0)" fill="#fff" stroke="#22263f" stroke-width="1.8"/><ellipse cx="698.8" cy="517.2" rx="10.9" ry="5.4" transform="rotate(94.1 698.8 517.2)" fill="#fff" stroke="#22263f" stroke-width="1.8"/>
<g transform="translate(868.2,313.5) rotate(-11.0) scale(1.00)"><path d="M12.4,-3.6 C14.5,-3.8 16,-3.8 17.5,-5.1 C19.2,-6.6 19.8,-9.5 21.5,-11.4 C22.6,-12.8 24.2,-13.3 25.3,-13 C27.2,-12.6 28.6,-11.6 28.3,-10.2 C27.9,-8 26,-5.5 26.6,-3.6 C27.2,-1.6 28.5,-0.2 29.7,1 C31,2.2 32.6,3 33.4,4.1 C34.4,5.5 34.5,6.7 33.9,7.8 C33.2,9.2 32.4,10.1 31.2,10.4 C30,10.7 28.7,10 27.5,9.2 C25.4,7.8 23.5,5.3 21.5,4.2 C20,3.4 18.8,3 17.5,3.1 C16,3.2 14.8,4.4 12.6,4.7 Z" fill="#fff" stroke="#22263f" stroke-width="2.1" stroke-linejoin="round"/><path d="M-9.6,-8.5 Q0,-6.6 9.6,-8.5 Q12.9,-8.9 12.7,-5.6 Q11.8,0 12.7,5.6 Q12.9,8.9 9.6,8.5 Q0,6.6 -9.6,8.5 Q-12.9,8.9 -12.7,5.6 Q-11.8,0 -12.7,-5.6 Q-12.9,-8.9 -9.6,-8.5 Z" fill="#fff" stroke="#22263f" stroke-width="2.1" stroke-linejoin="round"/></g>
<g transform="translate(872.4,337.0) rotate(-11.0) scale(1.00)"><path d="M12.4,-3.6 C14.5,-3.8 16,-3.8 17.5,-5.1 C19.2,-6.6 19.8,-9.5 21.5,-11.4 C22.6,-12.8 24.2,-13.3 25.3,-13 C27.2,-12.6 28.6,-11.6 28.3,-10.2 C27.9,-8 26,-5.5 26.6,-3.6 C27.2,-1.6 28.5,-0.2 29.7,1 C31,2.2 32.6,3 33.4,4.1 C34.4,5.5 34.5,6.7 33.9,7.8 C33.2,9.2 32.4,10.1 31.2,10.4 C30,10.7 28.7,10 27.5,9.2 C25.4,7.8 23.5,5.3 21.5,4.2 C20,3.4 18.8,3 17.5,3.1 C16,3.2 14.8,4.4 12.6,4.7 Z" fill="#fff" stroke="#22263f" stroke-width="2.1" stroke-linejoin="round"/><path d="M-9.6,-8.5 Q0,-6.6 9.6,-8.5 Q12.9,-8.9 12.7,-5.6 Q11.8,0 12.7,5.6 Q12.9,8.9 9.6,8.5 Q0,6.6 -9.6,8.5 Q-12.9,8.9 -12.7,5.6 Q-11.8,0 -12.7,-5.6 Q-12.9,-8.9 -9.6,-8.5 Z" fill="#fff" stroke="#22263f" stroke-width="2.1" stroke-linejoin="round"/></g>
<g transform="translate(875.7,360.5) rotate(-10.0) scale(1.00)"><path d="M12.4,-3.6 C14.5,-3.8 16,-3.8 17.5,-5.1 C19.2,-6.6 19.8,-9.5 21.5,-11.4 C22.6,-12.8 24.2,-13.3 25.3,-13 C27.2,-12.6 28.6,-11.6 28.3,-10.2 C27.9,-8 26,-5.5 26.6,-3.6 C27.2,-1.6 28.5,-0.2 29.7,1 C31,2.2 32.6,3 33.4,4.1 C34.4,5.5 34.5,6.7 33.9,7.8 C33.2,9.2 32.4,10.1 31.2,10.4 C30,10.7 28.7,10 27.5,9.2 C25.4,7.8 23.5,5.3 21.5,4.2 C20,3.4 18.8,3 17.5,3.1 C16,3.2 14.8,4.4 12.6,4.7 Z" fill="#fff" stroke="#22263f" stroke-width="2.1" stroke-linejoin="round"/><path d="M-9.6,-8.5 Q0,-6.6 9.6,-8.5 Q12.9,-8.9 12.7,-5.6 Q11.8,0 12.7,5.6 Q12.9,8.9 9.6,8.5 Q0,6.6 -9.6,8.5 Q-12.9,8.9 -12.7,5.6 Q-11.8,0 -12.7,-5.6 Q-12.9,-8.9 -9.6,-8.5 Z" fill="#fff" stroke="#22263f" stroke-width="2.1" stroke-linejoin="round"/></g>
<g transform="translate(879.0,384.0) rotate(-9.0) scale(1.00)"><path d="M12.4,-3.6 C14.5,-3.8 16,-3.8 17.5,-5.1 C19.2,-6.6 19.8,-9.5 21.5,-11.4 C22.6,-12.8 24.2,-13.3 25.3,-13 C27.2,-12.6 28.6,-11.6 28.3,-10.2 C27.9,-8 26,-5.5 26.6,-3.6 C27.2,-1.6 28.5,-0.2 29.7,1 C31,2.2 32.6,3 33.4,4.1 C34.4,5.5 34.5,6.7 33.9,7.8 C33.2,9.2 32.4,10.1 31.2,10.4 C30,10.7 28.7,10 27.5,9.2 C25.4,7.8 23.5,5.3 21.5,4.2 C20,3.4 18.8,3 17.5,3.1 C16,3.2 14.8,4.4 12.6,4.7 Z" fill="#fff" stroke="#22263f" stroke-width="2.1" stroke-linejoin="round"/><path d="M-9.6,-8.5 Q0,-6.6 9.6,-8.5 Q12.9,-8.9 12.7,-5.6 Q11.8,0 12.7,5.6 Q12.9,8.9 9.6,8.5 Q0,6.6 -9.6,8.5 Q-12.9,8.9 -12.7,5.6 Q-11.8,0 -12.7,-5.6 Q-12.9,-8.9 -9.6,-8.5 Z" fill="#fff" stroke="#22263f" stroke-width="2.1" stroke-linejoin="round"/></g>
<g transform="translate(880.5,408.0) rotate(-7.0) scale(1.00)"><path d="M12.4,-3.6 C14.5,-3.8 16,-3.8 17.5,-5.1 C19.2,-6.6 19.8,-9.5 21.5,-11.4 C22.6,-12.8 24.2,-13.3 25.3,-13 C27.2,-12.6 28.6,-11.6 28.3,-10.2 C27.9,-8 26,-5.5 26.6,-3.6 C27.2,-1.6 28.5,-0.2 29.7,1 C31,2.2 32.6,3 33.4,4.1 C34.4,5.5 34.5,6.7 33.9,7.8 C33.2,9.2 32.4,10.1 31.2,10.4 C30,10.7 28.7,10 27.5,9.2 C25.4,7.8 23.5,5.3 21.5,4.2 C20,3.4 18.8,3 17.5,3.1 C16,3.2 14.8,4.4 12.6,4.7 Z" fill="#fff" stroke="#22263f" stroke-width="2.1" stroke-linejoin="round"/><path d="M-9.6,-8.5 Q0,-6.6 9.6,-8.5 Q12.9,-8.9 12.7,-5.6 Q11.8,0 12.7,5.6 Q12.9,8.9 9.6,8.5 Q0,6.6 -9.6,8.5 Q-12.9,8.9 -12.7,5.6 Q-11.8,0 -12.7,-5.6 Q-12.9,-8.9 -9.6,-8.5 Z" fill="#fff" stroke="#22263f" stroke-width="2.1" stroke-linejoin="round"/></g>
<g transform="translate(882.0,432.0) rotate(-5.0) scale(1.00)"><path d="M12.4,-3.6 C14.5,-3.8 16,-3.8 17.5,-5.1 C19.2,-6.6 19.8,-9.5 21.5,-11.4 C22.6,-12.8 24.2,-13.3 25.3,-13 C27.2,-12.6 28.6,-11.6 28.3,-10.2 C27.9,-8 26,-5.5 26.6,-3.6 C27.2,-1.6 28.5,-0.2 29.7,1 C31,2.2 32.6,3 33.4,4.1 C34.4,5.5 34.5,6.7 33.9,7.8 C33.2,9.2 32.4,10.1 31.2,10.4 C30,10.7 28.7,10 27.5,9.2 C25.4,7.8 23.5,5.3 21.5,4.2 C20,3.4 18.8,3 17.5,3.1 C16,3.2 14.8,4.4 12.6,4.7 Z" fill="#fff" stroke="#22263f" stroke-width="2.1" stroke-linejoin="round"/><path d="M-9.6,-8.5 Q0,-6.6 9.6,-8.5 Q12.9,-8.9 12.7,-5.6 Q11.8,0 12.7,5.6 Q12.9,8.9 9.6,8.5 Q0,6.6 -9.6,8.5 Q-12.9,8.9 -12.7,5.6 Q-11.8,0 -12.7,-5.6 Q-12.9,-8.9 -9.6,-8.5 Z" fill="#fff" stroke="#22263f" stroke-width="2.1" stroke-linejoin="round"/></g>
<g transform="translate(883.2,456.0) rotate(-3.0) scale(1.00)"><path d="M12.4,-3.6 C14.5,-3.8 16,-3.8 17.5,-5.1 C19.2,-6.6 19.8,-9.5 21.5,-11.4 C22.6,-12.8 24.2,-13.3 25.3,-13 C27.2,-12.6 28.6,-11.6 28.3,-10.2 C27.9,-8 26,-5.5 26.6,-3.6 C27.2,-1.6 28.5,-0.2 29.7,1 C31,2.2 32.6,3 33.4,4.1 C34.4,5.5 34.5,6.7 33.9,7.8 C33.2,9.2 32.4,10.1 31.2,10.4 C30,10.7 28.7,10 27.5,9.2 C25.4,7.8 23.5,5.3 21.5,4.2 C20,3.4 18.8,3 17.5,3.1 C16,3.2 14.8,4.4 12.6,4.7 Z" fill="#fff" stroke="#22263f" stroke-width="2.1" stroke-linejoin="round"/><path d="M-9.6,-8.5 Q0,-6.6 9.6,-8.5 Q12.9,-8.9 12.7,-5.6 Q11.8,0 12.7,5.6 Q12.9,8.9 9.6,8.5 Q0,6.6 -9.6,8.5 Q-12.9,8.9 -12.7,5.6 Q-11.8,0 -12.7,-5.6 Q-12.9,-8.9 -9.6,-8.5 Z" fill="#fff" stroke="#22263f" stroke-width="2.1" stroke-linejoin="round"/></g>
<g transform="translate(883.7,480.3) rotate(0.0) scale(1.00)"><path d="M12.4,-3.6 C14.5,-3.8 16,-3.8 17.5,-5.1 C19.2,-6.6 19.8,-9.5 21.5,-11.4 C22.6,-12.8 24.2,-13.3 25.3,-13 C27.2,-12.6 28.6,-11.6 28.3,-10.2 C27.9,-8 26,-5.5 26.6,-3.6 C27.2,-1.6 28.5,-0.2 29.7,1 C31,2.2 32.6,3 33.4,4.1 C34.4,5.5 34.5,6.7 33.9,7.8 C33.2,9.2 32.4,10.1 31.2,10.4 C30,10.7 28.7,10 27.5,9.2 C25.4,7.8 23.5,5.3 21.5,4.2 C20,3.4 18.8,3 17.5,3.1 C16,3.2 14.8,4.4 12.6,4.7 Z" fill="#fff" stroke="#22263f" stroke-width="2.1" stroke-linejoin="round"/><path d="M-9.6,-8.5 Q0,-6.6 9.6,-8.5 Q12.9,-8.9 12.7,-5.6 Q11.8,0 12.7,5.6 Q12.9,8.9 9.6,8.5 Q0,6.6 -9.6,8.5 Q-12.9,8.9 -12.7,5.6 Q-11.8,0 -12.7,-5.6 Q-12.9,-8.9 -9.6,-8.5 Z" fill="#fff" stroke="#22263f" stroke-width="2.1" stroke-linejoin="round"/></g>
<g transform="translate(882.7,504.5) rotate(4.0) scale(1.00)"><path d="M12.4,-3.6 C14.5,-3.8 16,-3.8 17.5,-5.1 C19.2,-6.6 19.8,-9.5 21.5,-11.4 C22.6,-12.8 24.2,-13.3 25.3,-13 C27.2,-12.6 28.6,-11.6 28.3,-10.2 C27.9,-8 26,-5.5 26.6,-3.6 C27.2,-1.6 28.5,-0.2 29.7,1 C31,2.2 32.6,3 33.4,4.1 C34.4,5.5 34.5,6.7 33.9,7.8 C33.2,9.2 32.4,10.1 31.2,10.4 C30,10.7 28.7,10 27.5,9.2 C25.4,7.8 23.5,5.3 21.5,4.2 C20,3.4 18.8,3 17.5,3.1 C16,3.2 14.8,4.4 12.6,4.7 Z" fill="#fff" stroke="#22263f" stroke-width="2.1" stroke-linejoin="round"/><path d="M-9.6,-8.5 Q0,-6.6 9.6,-8.5 Q12.9,-8.9 12.7,-5.6 Q11.8,0 12.7,5.6 Q12.9,8.9 9.6,8.5 Q0,6.6 -9.6,8.5 Q-12.9,8.9 -12.7,5.6 Q-11.8,0 -12.7,-5.6 Q-12.9,-8.9 -9.6,-8.5 Z" fill="#fff" stroke="#22263f" stroke-width="2.1" stroke-linejoin="round"/></g>
<g transform="translate(881.3,527.5) rotate(8.0) scale(1.00)"><path d="M12.4,-3.6 C14.5,-3.8 16,-3.8 17.5,-5.1 C19.2,-6.6 19.8,-9.5 21.5,-11.4 C22.6,-12.8 24.2,-13.3 25.3,-13 C27.2,-12.6 28.6,-11.6 28.3,-10.2 C27.9,-8 26,-5.5 26.6,-3.6 C27.2,-1.6 28.5,-0.2 29.7,1 C31,2.2 32.6,3 33.4,4.1 C34.4,5.5 34.5,6.7 33.9,7.8 C33.2,9.2 32.4,10.1 31.2,10.4 C30,10.7 28.7,10 27.5,9.2 C25.4,7.8 23.5,5.3 21.5,4.2 C20,3.4 18.8,3 17.5,3.1 C16,3.2 14.8,4.4 12.6,4.7 Z" fill="#fff" stroke="#22263f" stroke-width="2.1" stroke-linejoin="round"/><path d="M-9.6,-8.5 Q0,-6.6 9.6,-8.5 Q12.9,-8.9 12.7,-5.6 Q11.8,0 12.7,5.6 Q12.9,8.9 9.6,8.5 Q0,6.6 -9.6,8.5 Q-12.9,8.9 -12.7,5.6 Q-11.8,0 -12.7,-5.6 Q-12.9,-8.9 -9.6,-8.5 Z" fill="#fff" stroke="#22263f" stroke-width="2.1" stroke-linejoin="round"/></g>
<g transform="translate(878.8,550.5) rotate(12.0) scale(1.00)"><path d="M12.4,-3.6 C14.5,-3.8 16,-3.8 17.5,-5.1 C19.2,-6.6 19.8,-9.5 21.5,-11.4 C22.6,-12.8 24.2,-13.3 25.3,-13 C27.2,-12.6 28.6,-11.6 28.3,-10.2 C27.9,-8 26,-5.5 26.6,-3.6 C27.2,-1.6 28.5,-0.2 29.7,1 C31,2.2 32.6,3 33.4,4.1 C34.4,5.5 34.5,6.7 33.9,7.8 C33.2,9.2 32.4,10.1 31.2,10.4 C30,10.7 28.7,10 27.5,9.2 C25.4,7.8 23.5,5.3 21.5,4.2 C20,3.4 18.8,3 17.5,3.1 C16,3.2 14.8,4.4 12.6,4.7 Z" fill="#fff" stroke="#22263f" stroke-width="2.1" stroke-linejoin="round"/><path d="M-9.6,-8.5 Q0,-6.6 9.6,-8.5 Q12.9,-8.9 12.7,-5.6 Q11.8,0 12.7,5.6 Q12.9,8.9 9.6,8.5 Q0,6.6 -9.6,8.5 Q-12.9,8.9 -12.7,5.6 Q-11.8,0 -12.7,-5.6 Q-12.9,-8.9 -9.6,-8.5 Z" fill="#fff" stroke="#22263f" stroke-width="2.1" stroke-linejoin="round"/></g>
<g transform="translate(873.8,574.0) rotate(16.0) scale(1.00)"><path d="M12.4,-3.6 C14.5,-3.8 16,-3.8 17.5,-5.1 C19.2,-6.6 19.8,-9.5 21.5,-11.4 C22.6,-12.8 24.2,-13.3 25.3,-13 C27.2,-12.6 28.6,-11.6 28.3,-10.2 C27.9,-8 26,-5.5 26.6,-3.6 C27.2,-1.6 28.5,-0.2 29.7,1 C31,2.2 32.6,3 33.4,4.1 C34.4,5.5 34.5,6.7 33.9,7.8 C33.2,9.2 32.4,10.1 31.2,10.4 C30,10.7 28.7,10 27.5,9.2 C25.4,7.8 23.5,5.3 21.5,4.2 C20,3.4 18.8,3 17.5,3.1 C16,3.2 14.8,4.4 12.6,4.7 Z" fill="#fff" stroke="#22263f" stroke-width="2.1" stroke-linejoin="round"/><path d="M-9.6,-8.5 Q0,-6.6 9.6,-8.5 Q12.9,-8.9 12.7,-5.6 Q11.8,0 12.7,5.6 Q12.9,8.9 9.6,8.5 Q0,6.6 -9.6,8.5 Q-12.9,8.9 -12.7,5.6 Q-11.8,0 -12.7,-5.6 Q-12.9,-8.9 -9.6,-8.5 Z" fill="#fff" stroke="#22263f" stroke-width="2.1" stroke-linejoin="round"/></g>
<g transform="translate(868.5,596.5) rotate(20.0) scale(1.00)"><path d="M12.4,-3.6 C14.5,-3.8 16,-3.8 17.5,-5.1 C19.2,-6.6 19.8,-9.5 21.5,-11.4 C22.6,-12.8 24.2,-13.3 25.3,-13 C27.2,-12.6 28.6,-11.6 28.3,-10.2 C27.9,-8 26,-5.5 26.6,-3.6 C27.2,-1.6 28.5,-0.2 29.7,1 C31,2.2 32.6,3 33.4,4.1 C34.4,5.5 34.5,6.7 33.9,7.8 C33.2,9.2 32.4,10.1 31.2,10.4 C30,10.7 28.7,10 27.5,9.2 C25.4,7.8 23.5,5.3 21.5,4.2 C20,3.4 18.8,3 17.5,3.1 C16,3.2 14.8,4.4 12.6,4.7 Z" fill="#fff" stroke="#22263f" stroke-width="2.1" stroke-linejoin="round"/><path d="M-9.6,-8.5 Q0,-6.6 9.6,-8.5 Q12.9,-8.9 12.7,-5.6 Q11.8,0 12.7,5.6 Q12.9,8.9 9.6,8.5 Q0,6.6 -9.6,8.5 Q-12.9,8.9 -12.7,5.6 Q-11.8,0 -12.7,-5.6 Q-12.9,-8.9 -9.6,-8.5 Z" fill="#fff" stroke="#22263f" stroke-width="2.1" stroke-linejoin="round"/></g>
<g transform="translate(862.2,618.5) rotate(23.0) scale(1.00)"><path d="M12.4,-3.6 C14.5,-3.8 16,-3.8 17.5,-5.1 C19.2,-6.6 19.8,-9.5 21.5,-11.4 C22.6,-12.8 24.2,-13.3 25.3,-13 C27.2,-12.6 28.6,-11.6 28.3,-10.2 C27.9,-8 26,-5.5 26.6,-3.6 C27.2,-1.6 28.5,-0.2 29.7,1 C31,2.2 32.6,3 33.4,4.1 C34.4,5.5 34.5,6.7 33.9,7.8 C33.2,9.2 32.4,10.1 31.2,10.4 C30,10.7 28.7,10 27.5,9.2 C25.4,7.8 23.5,5.3 21.5,4.2 C20,3.4 18.8,3 17.5,3.1 C16,3.2 14.8,4.4 12.6,4.7 Z" fill="#fff" stroke="#22263f" stroke-width="2.1" stroke-linejoin="round"/><path d="M-9.6,-8.5 Q0,-6.6 9.6,-8.5 Q12.9,-8.9 12.7,-5.6 Q11.8,0 12.7,5.6 Q12.9,8.9 9.6,8.5 Q0,6.6 -9.6,8.5 Q-12.9,8.9 -12.7,5.6 Q-11.8,0 -12.7,-5.6 Q-12.9,-8.9 -9.6,-8.5 Z" fill="#fff" stroke="#22263f" stroke-width="2.1" stroke-linejoin="round"/></g>
<g transform="translate(854.8,641.5) rotate(26.0) scale(1.00)"><path d="M12.4,-3.6 C14.5,-3.8 16,-3.8 17.5,-5.1 C19.2,-6.6 19.8,-9.5 21.5,-11.4 C22.6,-12.8 24.2,-13.3 25.3,-13 C27.2,-12.6 28.6,-11.6 28.3,-10.2 C27.9,-8 26,-5.5 26.6,-3.6 C27.2,-1.6 28.5,-0.2 29.7,1 C31,2.2 32.6,3 33.4,4.1 C34.4,5.5 34.5,6.7 33.9,7.8 C33.2,9.2 32.4,10.1 31.2,10.4 C30,10.7 28.7,10 27.5,9.2 C25.4,7.8 23.5,5.3 21.5,4.2 C20,3.4 18.8,3 17.5,3.1 C16,3.2 14.8,4.4 12.6,4.7 Z" fill="#fff" stroke="#22263f" stroke-width="2.1" stroke-linejoin="round"/><path d="M-9.6,-8.5 Q0,-6.6 9.6,-8.5 Q12.9,-8.9 12.7,-5.6 Q11.8,0 12.7,5.6 Q12.9,8.9 9.6,8.5 Q0,6.6 -9.6,8.5 Q-12.9,8.9 -12.7,5.6 Q-11.8,0 -12.7,-5.6 Q-12.9,-8.9 -9.6,-8.5 Z" fill="#fff" stroke="#22263f" stroke-width="2.1" stroke-linejoin="round"/></g>
<path d="M675,190 L691.4,176.4 L691,184.8 Q728,180.3 764.3,181.3 L762.9,194.9 Q728,190.6 692,193.9 L693.4,201.2 Z" fill="#fff"/><path d="M675,190 L691.4,176.4 L691,184.8 Q728,180.3 764.3,181.3 L762.9,194.9 Q728,190.6 692,193.9 L693.4,201.2 Z" fill="#379bcd" transform="translate(-1.0,0.6)"/><path d="M675,190 L691.4,176.4 L691,184.8 Q728,180.3 764.3,181.3 L762.9,194.9 Q728,190.6 692,193.9 L693.4,201.2 Z" fill="none" stroke="#22263f" stroke-width="1.8" stroke-linejoin="miter"/>
<path d="M823.4,246.1 L837.5,244.7 C836.5,241.3 834.5,230.5 831.6,224.2 C828.7,217.8 824.5,211.6 819.9,206.6 C815.3,201.6 809.0,197.0 804.3,193.9 C799.6,190.8 793.7,189.1 791.6,188.1 L794.1,182.2 L772.7,190 L785.7,205.7 L786.7,197.9 C789.3,198.9 797.7,200.6 802.3,203.7 C806.9,206.8 811.0,211.7 814.1,216.4 C817.2,221.1 819.4,227.1 820.9,232.0 C822.4,236.9 823.0,243.8 823.4,246.1Z" fill="#fff"/><path d="M823.4,246.1 L837.5,244.7 C836.5,241.3 834.5,230.5 831.6,224.2 C828.7,217.8 824.5,211.6 819.9,206.6 C815.3,201.6 809.0,197.0 804.3,193.9 C799.6,190.8 793.7,189.1 791.6,188.1 L794.1,182.2 L772.7,190 L785.7,205.7 L786.7,197.9 C789.3,198.9 797.7,200.6 802.3,203.7 C806.9,206.8 811.0,211.7 814.1,216.4 C817.2,221.1 819.4,227.1 820.9,232.0 C822.4,236.9 823.0,243.8 823.4,246.1Z" fill="#379bcd" transform="translate(-1.0,0.6)"/><path d="M823.4,246.1 L837.5,244.7 C836.5,241.3 834.5,230.5 831.6,224.2 C828.7,217.8 824.5,211.6 819.9,206.6 C815.3,201.6 809.0,197.0 804.3,193.9 C799.6,190.8 793.7,189.1 791.6,188.1 L794.1,182.2 L772.7,190 L785.7,205.7 L786.7,197.9 C789.3,198.9 797.7,200.6 802.3,203.7 C806.9,206.8 811.0,211.7 814.1,216.4 C817.2,221.1 819.4,227.1 820.9,232.0 C822.4,236.9 823.0,243.8 823.4,246.1Z" fill="none" stroke="#22263f" stroke-width="1.8" stroke-linejoin="miter"/>
<path d="M830.6,255.6 L841.7,271.8 L836.1,271.8 C835.4,277.5 834.2,293.9 832.0,305.9 C829.8,317.9 824.2,337.3 822.7,343.6 L808.8,339.4 C810.1,334.8 813.9,323.1 816.6,311.5 C819.3,299.9 823.6,277.0 825.0,270.1 L818,270.1Z" fill="#fff"/><path d="M830.6,255.6 L841.7,271.8 L836.1,271.8 C835.4,277.5 834.2,293.9 832.0,305.9 C829.8,317.9 824.2,337.3 822.7,343.6 L808.8,339.4 C810.1,334.8 813.9,323.1 816.6,311.5 C819.3,299.9 823.6,277.0 825.0,270.1 L818,270.1Z" fill="#379bcd" transform="translate(-1.5,0.6)"/><path d="M830.6,255.6 L841.7,271.8 L836.1,271.8 C835.4,277.5 834.2,293.9 832.0,305.9 C829.8,317.9 824.2,337.3 822.7,343.6 L808.8,339.4 C810.1,334.8 813.9,323.1 816.6,311.5 C819.3,299.9 823.6,277.0 825.0,270.1 L818,270.1Z" fill="none" stroke="#22263f" stroke-width="1.8" stroke-linejoin="miter"/>
<path d="M760.2,421.8 L798.6,359.5 L802.8,363.5 L799.8,345.0 L781.9,350.6 L787.4,352.6 L749.0,414.8Z" fill="#fff"/><path d="M760.2,421.8 L798.6,359.5 L802.8,363.5 L799.8,345.0 L781.9,350.6 L787.4,352.6 L749.0,414.8Z" fill="#379bcd" transform="translate(-1.5,0.6)"/><path d="M760.2,421.8 L798.6,359.5 L802.8,363.5 L799.8,345.0 L781.9,350.6 L787.4,352.6 L749.0,414.8Z" fill="none" stroke="#22263f" stroke-width="1.8" stroke-linejoin="miter"/>
<path d="M851.5,453.5 L840.5,374.8 L846.9,376.1 L832.0,359.8 L822.1,379.6 L827.9,376.5 L838.9,455.3Z" fill="#fff"/><path d="M851.5,453.5 L840.5,374.8 L846.9,376.1 L832.0,359.8 L822.1,379.6 L827.9,376.5 L838.9,455.3Z" fill="#379bcd" transform="translate(-1.5,0.6)"/><path d="M851.5,453.5 L840.5,374.8 L846.9,376.1 L832.0,359.8 L822.1,379.6 L827.9,376.5 L838.9,455.3Z" fill="none" stroke="#22263f" stroke-width="1.8" stroke-linejoin="miter"/>
<path d="M655.0,319.8 L690.1,344.1 L683.5,349.3 L711.5,348.3 L702.6,321.8 L700.0,329.7 L665.0,305.4Z" fill="#fff"/><path d="M655.0,319.8 L690.1,344.1 L683.5,349.3 L711.5,348.3 L702.6,321.8 L700.0,329.7 L665.0,305.4Z" fill="#f6bd53" transform="translate(-0.8,0.8)"/><path d="M655.0,319.8 L690.1,344.1 L683.5,349.3 L711.5,348.3 L702.6,321.8 L700.0,329.7 L665.0,305.4Z" fill="none" stroke="#22263f" stroke-width="1.8" stroke-linejoin="miter"/>
<path d="M628.4,385.5 L669.4,398.3 L664.7,405.4 L691.0,396.3 L674.5,373.9 L674.4,382.3 L633.4,369.5Z" fill="#fff"/><path d="M628.4,385.5 L669.4,398.3 L664.7,405.4 L691.0,396.3 L674.5,373.9 L674.4,382.3 L633.4,369.5Z" fill="#f6bd53" transform="translate(-0.8,0.8)"/><path d="M628.4,385.5 L669.4,398.3 L664.7,405.4 L691.0,396.3 L674.5,373.9 L674.4,382.3 L633.4,369.5Z" fill="none" stroke="#22263f" stroke-width="1.8" stroke-linejoin="miter"/>
<path d="M614.5,449.1 L658.1,453.7 L654.9,461.3 L678.9,447.3 L658.4,428.5 L659.9,436.6 L616.3,431.9Z" fill="#fff"/><path d="M614.5,449.1 L658.1,453.7 L654.9,461.3 L678.9,447.3 L658.4,428.5 L659.9,436.6 L616.3,431.9Z" fill="#f6bd53" transform="translate(-0.8,0.8)"/><path d="M614.5,449.1 L658.1,453.7 L654.9,461.3 L678.9,447.3 L658.4,428.5 L659.9,436.6 L616.3,431.9Z" fill="none" stroke="#22263f" stroke-width="1.8" stroke-linejoin="miter"/>
<path d="M755.7,531.6 L765.4,490.8 L772.7,494.8 L761.4,469.8 L740.1,487.0 L748.4,486.8 L738.7,527.6Z" fill="#fff"/><path d="M755.7,531.6 L765.4,490.8 L772.7,494.8 L761.4,469.8 L740.1,487.0 L748.4,486.8 L738.7,527.6Z" fill="#f6bd53" transform="translate(-0.8,0.5)"/><path d="M755.7,531.6 L765.4,490.8 L772.7,494.8 L761.4,469.8 L740.1,487.0 L748.4,486.8 L738.7,527.6Z" fill="none" stroke="#22263f" stroke-width="1.8" stroke-linejoin="miter"/>
<path d="M801.5,552.6 L811.6,511.5 L818.8,515.6 L807.7,490.5 L786.3,507.6 L794.6,507.4 L784.5,548.4Z" fill="#fff"/><path d="M801.5,552.6 L811.6,511.5 L818.8,515.6 L807.7,490.5 L786.3,507.6 L794.6,507.4 L784.5,548.4Z" fill="#f6bd53" transform="translate(-0.8,0.5)"/><path d="M801.5,552.6 L811.6,511.5 L818.8,515.6 L807.7,490.5 L786.3,507.6 L794.6,507.4 L784.5,548.4Z" fill="none" stroke="#22263f" stroke-width="1.8" stroke-linejoin="miter"/>
<text x="562.0" y="187.5" text-anchor="start" font-size="15.2" textLength="103.5" lengthAdjust="spacingAndGlyphs">AIR EXPELLED</text>
<text x="567.0" y="204.5" text-anchor="start" font-size="15.2" textLength="93.5" lengthAdjust="spacingAndGlyphs">FROM LUNGS</text>
<text x="503.0" y="298.5" text-anchor="start" font-size="15.2" textLength="142.5" lengthAdjust="spacingAndGlyphs">RIBS AND STERNUM</text>
<text x="543.0" y="316.0" text-anchor="start" font-size="15.2" textLength="102.5" lengthAdjust="spacingAndGlyphs">RETURNED TO</text>
<text x="501.0" y="333.5" text-anchor="start" font-size="15.2" textLength="144.5" lengthAdjust="spacingAndGlyphs">ORIGINAL POSITION</text>
<text x="891.0" y="222.5" text-anchor="start" font-size="15.2" textLength="83.5" lengthAdjust="spacingAndGlyphs">VOLUME OF</text>
<text x="902.0" y="240.0" text-anchor="start" font-size="15.2" textLength="61.5" lengthAdjust="spacingAndGlyphs">THORAX</text>
<text x="889.5" y="257.3" text-anchor="start" font-size="15.2" textLength="86.0" lengthAdjust="spacingAndGlyphs">DECREASED</text>
<path d="M975.5,263.6 L877.5,263.6 L836,304.5" fill="none" stroke="#22263f" stroke-width="1.9"/>
<text x="723.2" y="572.8" text-anchor="start" font-size="15.2" textLength="89.5" lengthAdjust="spacingAndGlyphs">DIAPHRAGM</text>
<text x="734.7" y="590.3" text-anchor="start" font-size="15.2" textLength="66.8" lengthAdjust="spacingAndGlyphs">RELAXED</text>
<text x="721.4" y="607.9" text-anchor="start" font-size="15.2" textLength="93.0" lengthAdjust="spacingAndGlyphs">AND ARCHED</text>
<text x="731.0" y="625.5" text-anchor="start" font-size="15.2" textLength="74.0" lengthAdjust="spacingAndGlyphs">UPWARDS</text>
<text x="721.0" y="734.0" text-anchor="start" font-size="24.6" textLength="149.0" lengthAdjust="spacingAndGlyphs" class="t">EXPIRATION</text>
</svg>
</body></html>
